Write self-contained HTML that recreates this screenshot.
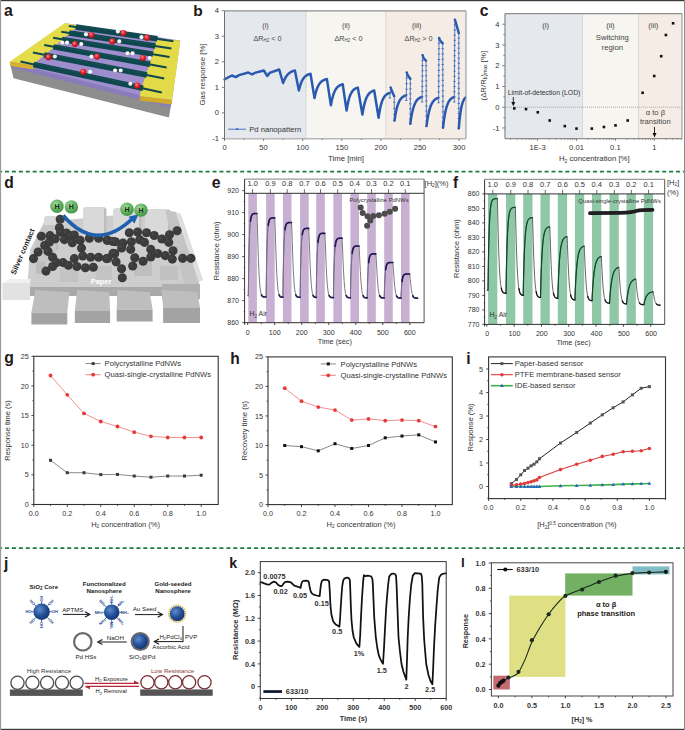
<!DOCTYPE html><html><head><meta charset="utf-8"><style>html,body{margin:0;padding:0;background:#fff;}svg{display:block;}text{font-family:"Liberation Sans", sans-serif;}</style></head><body>
<svg width="685" height="730" viewBox="0 0 685 730">
<rect x="0.00" y="0.00" width="685.00" height="730.00" fill="#fff" />
<text x="4.10" y="16.10" font-size="15.8" text-anchor="start" fill="#231815" font-weight="bold" >a</text>
<polygon points="10.30,64.50 171.00,104.00 169.00,117.40 13.50,78.20" fill="#8e8e8e" />
<polygon points="10.30,61.50 171.50,102.50 170.60,107.50 11.00,67.50" fill="#8a7cbc" />
<polygon points="65.70,23.30 180.30,40.50 171.50,103.20 10.30,62.50" fill="#9e8ecd" />
<polygon points="9.70,61.80 64.60,23.30 79.00,25.60 72.00,31.00 71.00,32.00 65.00,37.00 64.00,38.50 56.00,45.00 55.00,46.60 46.00,54.00 44.00,55.40 36.00,62.00 33.60,65.30" fill="#e4dc48" />
<polygon points="9.70,61.80 33.60,65.30 33.60,69.40 10.50,66.00" fill="#d6b22c" />
<polygon points="156.30,39.20 180.40,40.60 172.10,100.10 139.70,96.30 141.20,88.80 145.70,75.20 149.50,64.70 152.50,54.90 154.80,47.40" fill="#e2da46" />
<polygon points="139.70,96.30 172.10,100.10 171.50,104.50 139.70,100.50" fill="#d2aa2a" />
<line x1="68.80" y1="25.90" x2="173.40" y2="41.20" stroke="#0e474d" stroke-width="2.0" stroke-linecap="butt"/>
<line x1="75.91" y1="27.09" x2="157.44" y2="38.72" stroke="#0e474d" stroke-width="5.5" stroke-linecap="butt"/>
<line x1="77.91" y1="25.79" x2="156.44" y2="37.42" stroke="#2a6468" stroke-width="0.7" stroke-dasharray="0.8,1.2" stroke-linecap="butt"/>
<line x1="61.30" y1="31.70" x2="171.40" y2="48.60" stroke="#0e474d" stroke-width="2.0" stroke-linecap="butt"/>
<line x1="69.15" y1="33.06" x2="155.33" y2="45.98" stroke="#0e474d" stroke-width="5.5" stroke-linecap="butt"/>
<line x1="71.15" y1="31.76" x2="154.33" y2="44.68" stroke="#2a6468" stroke-width="0.7" stroke-dasharray="0.8,1.2" stroke-linecap="butt"/>
<line x1="53.10" y1="37.80" x2="169.50" y2="57.00" stroke="#0e474d" stroke-width="2.0" stroke-linecap="butt"/>
<line x1="61.93" y1="39.42" x2="152.97" y2="54.11" stroke="#0e474d" stroke-width="5.5" stroke-linecap="butt"/>
<line x1="63.93" y1="38.12" x2="151.97" y2="52.81" stroke="#2a6468" stroke-width="0.7" stroke-dasharray="0.8,1.2" stroke-linecap="butt"/>
<line x1="44.20" y1="45.00" x2="166.60" y2="67.40" stroke="#0e474d" stroke-width="2.0" stroke-linecap="butt"/>
<line x1="53.48" y1="46.88" x2="150.04" y2="64.19" stroke="#0e474d" stroke-width="5.5" stroke-linecap="butt"/>
<line x1="55.48" y1="45.58" x2="149.04" y2="62.89" stroke="#2a6468" stroke-width="0.7" stroke-dasharray="0.8,1.2" stroke-linecap="butt"/>
<line x1="32.90" y1="52.60" x2="164.20" y2="78.60" stroke="#0e474d" stroke-width="2.0" stroke-linecap="butt"/>
<line x1="44.23" y1="55.04" x2="146.90" y2="74.98" stroke="#0e474d" stroke-width="5.5" stroke-linecap="butt"/>
<line x1="46.23" y1="53.74" x2="145.90" y2="73.68" stroke="#2a6468" stroke-width="0.7" stroke-dasharray="0.8,1.2" stroke-linecap="butt"/>
<line x1="20.50" y1="61.40" x2="161.80" y2="92.60" stroke="#0e474d" stroke-width="2.0" stroke-linecap="butt"/>
<line x1="33.51" y1="64.49" x2="143.04" y2="88.24" stroke="#0e474d" stroke-width="5.5" stroke-linecap="butt"/>
<line x1="35.51" y1="63.19" x2="142.04" y2="86.94" stroke="#2a6468" stroke-width="0.7" stroke-dasharray="0.8,1.2" stroke-linecap="butt"/>
<defs><radialGradient id="rg" cx="0.4" cy="0.35" r="0.7"><stop offset="0" stop-color="#ff8a8a"/><stop offset="0.5" stop-color="#e0202a"/><stop offset="1" stop-color="#a01018"/></radialGradient><radialGradient id="wg" cx="0.4" cy="0.35" r="0.7"><stop offset="0" stop-color="#ffffff"/><stop offset="0.7" stop-color="#f0f0f0"/><stop offset="1" stop-color="#b8b8b8"/></radialGradient></defs>
<circle cx="91.50" cy="35.00" r="3.10" fill="url(#rg)" />
<circle cx="123.40" cy="33.00" r="3.10" fill="url(#rg)" />
<circle cx="147.00" cy="37.70" r="3.10" fill="url(#rg)" />
<circle cx="74.90" cy="44.10" r="3.10" fill="url(#rg)" />
<circle cx="112.30" cy="41.40" r="3.10" fill="url(#rg)" />
<circle cx="142.90" cy="58.00" r="3.10" fill="url(#rg)" />
<circle cx="48.50" cy="57.20" r="3.10" fill="url(#rg)" />
<circle cx="97.10" cy="56.60" r="3.10" fill="url(#rg)" />
<circle cx="83.20" cy="71.90" r="3.10" fill="url(#rg)" />
<circle cx="137.30" cy="85.70" r="3.10" fill="url(#rg)" />
<circle cx="86.00" cy="34.40" r="2.10" fill="url(#wg)" />
<circle cx="117.90" cy="31.60" r="2.10" fill="url(#wg)" />
<circle cx="141.50" cy="37.20" r="2.10" fill="url(#wg)" />
<circle cx="62.40" cy="42.70" r="2.10" fill="url(#wg)" />
<circle cx="67.10" cy="42.70" r="2.10" fill="url(#wg)" />
<circle cx="81.30" cy="44.10" r="2.10" fill="url(#wg)" />
<circle cx="119.30" cy="41.40" r="2.10" fill="url(#wg)" />
<circle cx="127.60" cy="53.30" r="2.10" fill="url(#wg)" />
<circle cx="132.60" cy="53.30" r="2.10" fill="url(#wg)" />
<circle cx="149.80" cy="58.00" r="2.10" fill="url(#wg)" />
<circle cx="54.90" cy="56.60" r="2.10" fill="url(#wg)" />
<circle cx="91.50" cy="56.60" r="2.10" fill="url(#wg)" />
<circle cx="90.20" cy="71.90" r="2.10" fill="url(#wg)" />
<circle cx="115.10" cy="70.50" r="2.10" fill="url(#wg)" />
<circle cx="120.70" cy="70.50" r="2.10" fill="url(#wg)" />
<circle cx="130.40" cy="83.80" r="2.10" fill="url(#wg)" />
<text x="193.20" y="16.10" font-size="15.5" text-anchor="start" fill="#231815" font-weight="bold" >b</text>
<rect x="224.50" y="10.90" width="81.50" height="127.80" fill="#e5e9ee" />
<rect x="306.00" y="10.90" width="79.80" height="127.80" fill="#f6f5ef" />
<rect x="385.80" y="10.90" width="80.20" height="127.80" fill="#f5ede5" />
<line x1="306.00" y1="10.90" x2="306.00" y2="138.70" stroke="#b0b0b0" stroke-width="0.8" stroke-dasharray="1,1"/>
<line x1="385.80" y1="10.90" x2="385.80" y2="138.70" stroke="#b0b0b0" stroke-width="0.8" stroke-dasharray="1,1"/>
<text x="265.50" y="28.20" font-size="7.2" text-anchor="middle" fill="#444" font-weight="normal" >(i)</text>
<text x="267.50" y="40.60" font-size="7.2" text-anchor="middle" fill="#444" font-weight="normal" >ΔR<tspan font-size="4.5" dy="1.5">H2</tspan><tspan dy="-1.5"> &lt; 0</tspan></text>
<text x="346.00" y="28.20" font-size="7.2" text-anchor="middle" fill="#444" font-weight="normal" >(ii)</text>
<text x="348.50" y="40.60" font-size="7.2" text-anchor="middle" fill="#444" font-weight="normal" >ΔR<tspan font-size="4.5" dy="1.5">H2</tspan><tspan dy="-1.5"> &lt; 0</tspan></text>
<text x="416.70" y="28.20" font-size="7.2" text-anchor="middle" fill="#444" font-weight="normal" >(iii)</text>
<text x="418.60" y="40.60" font-size="7.2" text-anchor="middle" fill="#444" font-weight="normal" >ΔR<tspan font-size="4.5" dy="1.5">H2</tspan><tspan dy="-1.5"> &gt; 0</tspan></text>
<polyline points="224.60,79.40 228.00,77.50 231.90,75.50 235.80,77.10 239.10,75.10 248.30,72.50 252.00,74.50 254.80,72.90 263.80,70.50 267.30,76.00 269.60,72.90 279.20,69.50 283.10,83.00 284.58,79.35 286.05,76.67 287.52,74.71 289.00,73.28 290.48,72.24 291.95,71.47 293.42,70.91 294.90,70.50 298.90,90.50 300.06,85.94 301.22,82.57 302.38,80.07 303.54,78.22 304.70,76.85 305.86,75.83 307.02,75.08 308.18,74.52 309.34,74.11 310.50,73.80 314.50,98.10 315.39,94.05 316.27,90.83 317.16,88.27 318.04,86.23 318.93,84.61 319.81,83.32 320.70,82.29 321.59,81.47 322.47,80.82 323.36,80.31 324.24,79.90 325.13,79.57 326.01,79.31 326.90,79.10 330.90,105.30 331.74,100.83 332.59,97.27 333.43,94.44 334.27,92.18 335.11,90.39 335.96,88.96 336.80,87.83 337.64,86.92 338.49,86.21 339.33,85.63 340.17,85.18 341.01,84.82 341.86,84.53 342.70,84.30 346.60,110.60 347.40,105.70 348.20,101.80 349.00,98.70 349.80,96.23 350.60,94.27 351.40,92.71 352.20,91.46 353.00,90.47 353.80,89.69 354.60,89.06 355.40,88.56 356.20,88.17 357.00,87.85 357.80,87.60 362.40,114.50 363.24,109.39 364.09,105.32 364.93,102.08 365.77,99.51 366.61,97.46 367.46,95.83 368.30,94.53 369.14,93.50 369.99,92.68 370.83,92.02 371.67,91.50 372.51,91.09 373.36,90.76 374.20,90.50 378.60,117.80 379.38,112.52 380.16,108.31 380.94,104.97 381.71,102.31 382.49,100.19 383.27,98.51 384.05,97.17 384.83,96.10 385.61,95.25 386.39,94.58 387.16,94.04 387.94,93.61 388.72,93.27 389.50,93.00" fill="none" stroke="#2a59b0" stroke-width="2.5" stroke-linejoin="round" stroke-linecap="round" />
<line x1="389.80" y1="98.00" x2="390.60" y2="87.50" stroke="#4a72c0" stroke-width="0.9" />
<line x1="394.20" y1="96.20" x2="394.50" y2="120.60" stroke="#4a72c0" stroke-width="0.9" />
<line x1="388.60" y1="98.00" x2="391.00" y2="98.00" stroke="#3a66b8" stroke-width="0.9" />
<line x1="389.05" y1="92.75" x2="391.45" y2="92.75" stroke="#3a66b8" stroke-width="0.9" />
<line x1="389.50" y1="87.50" x2="391.90" y2="87.50" stroke="#3a66b8" stroke-width="0.9" />
<line x1="393.00" y1="96.20" x2="395.40" y2="96.20" stroke="#3a66b8" stroke-width="0.9" />
<line x1="393.07" y1="102.30" x2="395.47" y2="102.30" stroke="#3a66b8" stroke-width="0.9" />
<line x1="393.15" y1="108.40" x2="395.55" y2="108.40" stroke="#3a66b8" stroke-width="0.9" />
<line x1="393.23" y1="114.50" x2="395.62" y2="114.50" stroke="#3a66b8" stroke-width="0.9" />
<line x1="393.30" y1="120.60" x2="395.70" y2="120.60" stroke="#3a66b8" stroke-width="0.9" />
<polyline points="390.70,87.50 391.50,90.00 394.20,96.20" fill="none" stroke="#2a59b0" stroke-width="2.4" stroke-linejoin="round" stroke-linecap="round" />
<polyline points="394.50,120.60 395.32,115.23 396.14,110.96 396.96,107.56 397.79,104.86 398.61,102.71 399.43,101.00 400.25,99.63 401.07,98.55 401.89,97.69 402.71,97.00 403.54,96.45 404.36,96.02 405.18,95.67 406.00,95.40" fill="none" stroke="#2a59b0" stroke-width="2.5" stroke-linejoin="round" stroke-linecap="round" clip-path="url(#clipb)"/>
<line x1="406.30" y1="100.40" x2="406.70" y2="72.50" stroke="#4a72c0" stroke-width="0.9" />
<line x1="410.30" y1="78.80" x2="410.30" y2="123.80" stroke="#4a72c0" stroke-width="0.9" />
<line x1="405.10" y1="100.40" x2="407.50" y2="100.40" stroke="#3a66b8" stroke-width="0.9" />
<line x1="405.20" y1="94.82" x2="407.60" y2="94.82" stroke="#3a66b8" stroke-width="0.9" />
<line x1="405.30" y1="89.24" x2="407.70" y2="89.24" stroke="#3a66b8" stroke-width="0.9" />
<line x1="405.40" y1="83.66" x2="407.80" y2="83.66" stroke="#3a66b8" stroke-width="0.9" />
<line x1="405.50" y1="78.08" x2="407.90" y2="78.08" stroke="#3a66b8" stroke-width="0.9" />
<line x1="405.60" y1="72.50" x2="408.00" y2="72.50" stroke="#3a66b8" stroke-width="0.9" />
<line x1="409.10" y1="78.80" x2="411.50" y2="78.80" stroke="#3a66b8" stroke-width="0.9" />
<line x1="409.10" y1="83.80" x2="411.50" y2="83.80" stroke="#3a66b8" stroke-width="0.9" />
<line x1="409.10" y1="88.80" x2="411.50" y2="88.80" stroke="#3a66b8" stroke-width="0.9" />
<line x1="409.10" y1="93.80" x2="411.50" y2="93.80" stroke="#3a66b8" stroke-width="0.9" />
<line x1="409.10" y1="98.80" x2="411.50" y2="98.80" stroke="#3a66b8" stroke-width="0.9" />
<line x1="409.10" y1="103.80" x2="411.50" y2="103.80" stroke="#3a66b8" stroke-width="0.9" />
<line x1="409.10" y1="108.80" x2="411.50" y2="108.80" stroke="#3a66b8" stroke-width="0.9" />
<line x1="409.10" y1="113.80" x2="411.50" y2="113.80" stroke="#3a66b8" stroke-width="0.9" />
<line x1="409.10" y1="118.80" x2="411.50" y2="118.80" stroke="#3a66b8" stroke-width="0.9" />
<line x1="409.10" y1="123.80" x2="411.50" y2="123.80" stroke="#3a66b8" stroke-width="0.9" />
<polyline points="406.80,72.50 407.60,75.00 410.30,78.80" fill="none" stroke="#2a59b0" stroke-width="2.4" stroke-linejoin="round" stroke-linecap="round" />
<polyline points="410.30,123.80 411.12,118.09 411.94,113.55 412.76,109.93 413.59,107.06 414.41,104.77 415.23,102.95 416.05,101.50 416.87,100.35 417.69,99.43 418.51,98.70 419.34,98.12 420.16,97.66 420.98,97.29 421.80,97.00" fill="none" stroke="#2a59b0" stroke-width="2.5" stroke-linejoin="round" stroke-linecap="round" clip-path="url(#clipb)"/>
<line x1="422.10" y1="102.00" x2="422.50" y2="55.20" stroke="#4a72c0" stroke-width="0.9" />
<line x1="426.00" y1="60.70" x2="426.50" y2="126.10" stroke="#4a72c0" stroke-width="0.9" />
<line x1="420.90" y1="102.00" x2="423.30" y2="102.00" stroke="#3a66b8" stroke-width="0.9" />
<line x1="420.96" y1="96.80" x2="423.36" y2="96.80" stroke="#3a66b8" stroke-width="0.9" />
<line x1="421.01" y1="91.60" x2="423.41" y2="91.60" stroke="#3a66b8" stroke-width="0.9" />
<line x1="421.07" y1="86.40" x2="423.47" y2="86.40" stroke="#3a66b8" stroke-width="0.9" />
<line x1="421.12" y1="81.20" x2="423.52" y2="81.20" stroke="#3a66b8" stroke-width="0.9" />
<line x1="421.18" y1="76.00" x2="423.58" y2="76.00" stroke="#3a66b8" stroke-width="0.9" />
<line x1="421.23" y1="70.80" x2="423.63" y2="70.80" stroke="#3a66b8" stroke-width="0.9" />
<line x1="421.29" y1="65.60" x2="423.69" y2="65.60" stroke="#3a66b8" stroke-width="0.9" />
<line x1="421.34" y1="60.40" x2="423.74" y2="60.40" stroke="#3a66b8" stroke-width="0.9" />
<line x1="421.40" y1="55.20" x2="423.80" y2="55.20" stroke="#3a66b8" stroke-width="0.9" />
<line x1="424.80" y1="60.70" x2="427.20" y2="60.70" stroke="#3a66b8" stroke-width="0.9" />
<line x1="424.84" y1="65.73" x2="427.24" y2="65.73" stroke="#3a66b8" stroke-width="0.9" />
<line x1="424.88" y1="70.76" x2="427.28" y2="70.76" stroke="#3a66b8" stroke-width="0.9" />
<line x1="424.92" y1="75.79" x2="427.32" y2="75.79" stroke="#3a66b8" stroke-width="0.9" />
<line x1="424.95" y1="80.82" x2="427.35" y2="80.82" stroke="#3a66b8" stroke-width="0.9" />
<line x1="424.99" y1="85.85" x2="427.39" y2="85.85" stroke="#3a66b8" stroke-width="0.9" />
<line x1="425.03" y1="90.88" x2="427.43" y2="90.88" stroke="#3a66b8" stroke-width="0.9" />
<line x1="425.07" y1="95.92" x2="427.47" y2="95.92" stroke="#3a66b8" stroke-width="0.9" />
<line x1="425.11" y1="100.95" x2="427.51" y2="100.95" stroke="#3a66b8" stroke-width="0.9" />
<line x1="425.15" y1="105.98" x2="427.55" y2="105.98" stroke="#3a66b8" stroke-width="0.9" />
<line x1="425.18" y1="111.01" x2="427.58" y2="111.01" stroke="#3a66b8" stroke-width="0.9" />
<line x1="425.22" y1="116.04" x2="427.62" y2="116.04" stroke="#3a66b8" stroke-width="0.9" />
<line x1="425.26" y1="121.07" x2="427.66" y2="121.07" stroke="#3a66b8" stroke-width="0.9" />
<line x1="425.30" y1="126.10" x2="427.70" y2="126.10" stroke="#3a66b8" stroke-width="0.9" />
<polyline points="422.60,55.20 423.40,57.70 426.00,60.70" fill="none" stroke="#2a59b0" stroke-width="2.4" stroke-linejoin="round" stroke-linecap="round" />
<polyline points="426.50,126.10 427.34,120.07 428.19,115.28 429.03,111.46 429.87,108.42 430.71,106.01 431.56,104.08 432.40,102.55 433.24,101.34 434.09,100.37 434.93,99.60 435.77,98.98 436.61,98.50 437.46,98.11 438.30,97.80" fill="none" stroke="#2a59b0" stroke-width="2.5" stroke-linejoin="round" stroke-linecap="round" clip-path="url(#clipb)"/>
<line x1="438.60" y1="102.80" x2="439.00" y2="37.90" stroke="#4a72c0" stroke-width="0.9" />
<line x1="442.70" y1="43.40" x2="443.00" y2="127.70" stroke="#4a72c0" stroke-width="0.9" />
<line x1="437.40" y1="102.80" x2="439.80" y2="102.80" stroke="#3a66b8" stroke-width="0.9" />
<line x1="437.44" y1="97.39" x2="439.84" y2="97.39" stroke="#3a66b8" stroke-width="0.9" />
<line x1="437.48" y1="91.98" x2="439.88" y2="91.98" stroke="#3a66b8" stroke-width="0.9" />
<line x1="437.53" y1="86.57" x2="439.93" y2="86.57" stroke="#3a66b8" stroke-width="0.9" />
<line x1="437.57" y1="81.17" x2="439.97" y2="81.17" stroke="#3a66b8" stroke-width="0.9" />
<line x1="437.61" y1="75.76" x2="440.01" y2="75.76" stroke="#3a66b8" stroke-width="0.9" />
<line x1="437.65" y1="70.35" x2="440.05" y2="70.35" stroke="#3a66b8" stroke-width="0.9" />
<line x1="437.69" y1="64.94" x2="440.09" y2="64.94" stroke="#3a66b8" stroke-width="0.9" />
<line x1="437.73" y1="59.53" x2="440.13" y2="59.53" stroke="#3a66b8" stroke-width="0.9" />
<line x1="437.78" y1="54.12" x2="440.18" y2="54.12" stroke="#3a66b8" stroke-width="0.9" />
<line x1="437.82" y1="48.72" x2="440.22" y2="48.72" stroke="#3a66b8" stroke-width="0.9" />
<line x1="437.86" y1="43.31" x2="440.26" y2="43.31" stroke="#3a66b8" stroke-width="0.9" />
<line x1="437.90" y1="37.90" x2="440.30" y2="37.90" stroke="#3a66b8" stroke-width="0.9" />
<line x1="441.50" y1="43.40" x2="443.90" y2="43.40" stroke="#3a66b8" stroke-width="0.9" />
<line x1="441.52" y1="48.67" x2="443.92" y2="48.67" stroke="#3a66b8" stroke-width="0.9" />
<line x1="441.54" y1="53.94" x2="443.94" y2="53.94" stroke="#3a66b8" stroke-width="0.9" />
<line x1="441.56" y1="59.21" x2="443.96" y2="59.21" stroke="#3a66b8" stroke-width="0.9" />
<line x1="441.57" y1="64.47" x2="443.97" y2="64.47" stroke="#3a66b8" stroke-width="0.9" />
<line x1="441.59" y1="69.74" x2="443.99" y2="69.74" stroke="#3a66b8" stroke-width="0.9" />
<line x1="441.61" y1="75.01" x2="444.01" y2="75.01" stroke="#3a66b8" stroke-width="0.9" />
<line x1="441.63" y1="80.28" x2="444.03" y2="80.28" stroke="#3a66b8" stroke-width="0.9" />
<line x1="441.65" y1="85.55" x2="444.05" y2="85.55" stroke="#3a66b8" stroke-width="0.9" />
<line x1="441.67" y1="90.82" x2="444.07" y2="90.82" stroke="#3a66b8" stroke-width="0.9" />
<line x1="441.69" y1="96.09" x2="444.09" y2="96.09" stroke="#3a66b8" stroke-width="0.9" />
<line x1="441.71" y1="101.36" x2="444.11" y2="101.36" stroke="#3a66b8" stroke-width="0.9" />
<line x1="441.73" y1="106.62" x2="444.12" y2="106.62" stroke="#3a66b8" stroke-width="0.9" />
<line x1="441.74" y1="111.89" x2="444.14" y2="111.89" stroke="#3a66b8" stroke-width="0.9" />
<line x1="441.76" y1="117.16" x2="444.16" y2="117.16" stroke="#3a66b8" stroke-width="0.9" />
<line x1="441.78" y1="122.43" x2="444.18" y2="122.43" stroke="#3a66b8" stroke-width="0.9" />
<line x1="441.80" y1="127.70" x2="444.20" y2="127.70" stroke="#3a66b8" stroke-width="0.9" />
<polyline points="439.10,37.90 439.90,40.40 442.70,43.40" fill="none" stroke="#2a59b0" stroke-width="2.4" stroke-linejoin="round" stroke-linecap="round" />
<polyline points="443.00,127.70 443.79,121.16 444.57,115.96 445.36,111.82 446.14,108.52 446.93,105.90 447.71,103.82 448.50,102.16 449.29,100.84 450.07,99.79 450.86,98.95 451.64,98.29 452.43,97.76 453.21,97.34 454.00,97.00" fill="none" stroke="#2a59b0" stroke-width="2.5" stroke-linejoin="round" stroke-linecap="round" clip-path="url(#clipb)"/>
<line x1="454.30" y1="102.00" x2="454.80" y2="19.70" stroke="#4a72c0" stroke-width="0.9" />
<line x1="458.80" y1="33.10" x2="458.80" y2="128.50" stroke="#4a72c0" stroke-width="0.9" />
<line x1="453.10" y1="102.00" x2="455.50" y2="102.00" stroke="#3a66b8" stroke-width="0.9" />
<line x1="453.14" y1="96.86" x2="455.54" y2="96.86" stroke="#3a66b8" stroke-width="0.9" />
<line x1="453.18" y1="91.71" x2="455.57" y2="91.71" stroke="#3a66b8" stroke-width="0.9" />
<line x1="453.21" y1="86.57" x2="455.61" y2="86.57" stroke="#3a66b8" stroke-width="0.9" />
<line x1="453.25" y1="81.42" x2="455.65" y2="81.42" stroke="#3a66b8" stroke-width="0.9" />
<line x1="453.29" y1="76.28" x2="455.69" y2="76.28" stroke="#3a66b8" stroke-width="0.9" />
<line x1="453.32" y1="71.14" x2="455.72" y2="71.14" stroke="#3a66b8" stroke-width="0.9" />
<line x1="453.36" y1="65.99" x2="455.76" y2="65.99" stroke="#3a66b8" stroke-width="0.9" />
<line x1="453.40" y1="60.85" x2="455.80" y2="60.85" stroke="#3a66b8" stroke-width="0.9" />
<line x1="453.44" y1="55.71" x2="455.84" y2="55.71" stroke="#3a66b8" stroke-width="0.9" />
<line x1="453.48" y1="50.56" x2="455.88" y2="50.56" stroke="#3a66b8" stroke-width="0.9" />
<line x1="453.51" y1="45.42" x2="455.91" y2="45.42" stroke="#3a66b8" stroke-width="0.9" />
<line x1="453.55" y1="40.28" x2="455.95" y2="40.28" stroke="#3a66b8" stroke-width="0.9" />
<line x1="453.59" y1="35.13" x2="455.99" y2="35.13" stroke="#3a66b8" stroke-width="0.9" />
<line x1="453.62" y1="29.99" x2="456.02" y2="29.99" stroke="#3a66b8" stroke-width="0.9" />
<line x1="453.66" y1="24.84" x2="456.06" y2="24.84" stroke="#3a66b8" stroke-width="0.9" />
<line x1="453.70" y1="19.70" x2="456.10" y2="19.70" stroke="#3a66b8" stroke-width="0.9" />
<line x1="457.60" y1="33.10" x2="460.00" y2="33.10" stroke="#3a66b8" stroke-width="0.9" />
<line x1="457.60" y1="38.12" x2="460.00" y2="38.12" stroke="#3a66b8" stroke-width="0.9" />
<line x1="457.60" y1="43.14" x2="460.00" y2="43.14" stroke="#3a66b8" stroke-width="0.9" />
<line x1="457.60" y1="48.16" x2="460.00" y2="48.16" stroke="#3a66b8" stroke-width="0.9" />
<line x1="457.60" y1="53.18" x2="460.00" y2="53.18" stroke="#3a66b8" stroke-width="0.9" />
<line x1="457.60" y1="58.21" x2="460.00" y2="58.21" stroke="#3a66b8" stroke-width="0.9" />
<line x1="457.60" y1="63.23" x2="460.00" y2="63.23" stroke="#3a66b8" stroke-width="0.9" />
<line x1="457.60" y1="68.25" x2="460.00" y2="68.25" stroke="#3a66b8" stroke-width="0.9" />
<line x1="457.60" y1="73.27" x2="460.00" y2="73.27" stroke="#3a66b8" stroke-width="0.9" />
<line x1="457.60" y1="78.29" x2="460.00" y2="78.29" stroke="#3a66b8" stroke-width="0.9" />
<line x1="457.60" y1="83.31" x2="460.00" y2="83.31" stroke="#3a66b8" stroke-width="0.9" />
<line x1="457.60" y1="88.33" x2="460.00" y2="88.33" stroke="#3a66b8" stroke-width="0.9" />
<line x1="457.60" y1="93.35" x2="460.00" y2="93.35" stroke="#3a66b8" stroke-width="0.9" />
<line x1="457.60" y1="98.37" x2="460.00" y2="98.37" stroke="#3a66b8" stroke-width="0.9" />
<line x1="457.60" y1="103.39" x2="460.00" y2="103.39" stroke="#3a66b8" stroke-width="0.9" />
<line x1="457.60" y1="108.42" x2="460.00" y2="108.42" stroke="#3a66b8" stroke-width="0.9" />
<line x1="457.60" y1="113.44" x2="460.00" y2="113.44" stroke="#3a66b8" stroke-width="0.9" />
<line x1="457.60" y1="118.46" x2="460.00" y2="118.46" stroke="#3a66b8" stroke-width="0.9" />
<line x1="457.60" y1="123.48" x2="460.00" y2="123.48" stroke="#3a66b8" stroke-width="0.9" />
<line x1="457.60" y1="128.50" x2="460.00" y2="128.50" stroke="#3a66b8" stroke-width="0.9" />
<polyline points="454.90,19.70 455.70,22.20 458.80,33.10" fill="none" stroke="#2a59b0" stroke-width="2.4" stroke-linejoin="round" stroke-linecap="round" />
<polyline points="458.80,128.50 459.39,121.68 459.97,116.26 460.56,111.94 461.14,108.51 461.73,105.78 462.31,103.61 462.90,101.88 463.49,100.50 464.07,99.40 464.66,98.53 465.24,97.84 465.83,97.29 466.41,96.85 467.00,96.50" fill="none" stroke="#2a59b0" stroke-width="2.5" stroke-linejoin="round" stroke-linecap="round" clip-path="url(#clipb)"/>
<defs><clipPath id="clipb"><rect x="224.5" y="10.9" width="241.5" height="127.79999999999998"/></clipPath></defs>
<line x1="224.50" y1="10.90" x2="466.00" y2="10.90" stroke="#8f8f8f" stroke-width="1.2" />
<line x1="466.00" y1="10.90" x2="466.00" y2="138.70" stroke="#9a9a9a" stroke-width="1.1" />
<line x1="224.50" y1="138.70" x2="466.00" y2="138.70" stroke="#b8b8b8" stroke-width="1.5" />
<line x1="224.50" y1="10.90" x2="224.50" y2="140.20" stroke="#707070" stroke-width="1.0" />
<line x1="221.80" y1="10.70" x2="224.50" y2="10.70" stroke="#707070" stroke-width="0.9" />
<text x="219.00" y="13.00" font-size="7.6" text-anchor="end" fill="#333" font-weight="normal" >4</text>
<line x1="221.80" y1="36.24" x2="224.50" y2="36.24" stroke="#707070" stroke-width="0.9" />
<text x="219.00" y="38.54" font-size="7.6" text-anchor="end" fill="#333" font-weight="normal" >3</text>
<line x1="221.80" y1="61.78" x2="224.50" y2="61.78" stroke="#707070" stroke-width="0.9" />
<text x="219.00" y="64.08" font-size="7.6" text-anchor="end" fill="#333" font-weight="normal" >2</text>
<line x1="221.80" y1="87.32" x2="224.50" y2="87.32" stroke="#707070" stroke-width="0.9" />
<text x="219.00" y="89.62" font-size="7.6" text-anchor="end" fill="#333" font-weight="normal" >1</text>
<line x1="221.80" y1="112.86" x2="224.50" y2="112.86" stroke="#707070" stroke-width="0.9" />
<text x="219.00" y="115.16" font-size="7.6" text-anchor="end" fill="#333" font-weight="normal" >0</text>
<line x1="221.80" y1="138.40" x2="224.50" y2="138.40" stroke="#707070" stroke-width="0.9" />
<text x="219.00" y="140.70" font-size="7.6" text-anchor="end" fill="#333" font-weight="normal" >-1</text>
<line x1="224.50" y1="138.70" x2="224.50" y2="140.90" stroke="#707070" stroke-width="0.9" />
<text x="224.50" y="150.30" font-size="7.6" text-anchor="middle" fill="#333" font-weight="normal" >0</text>
<line x1="263.60" y1="138.70" x2="263.60" y2="140.90" stroke="#707070" stroke-width="0.9" />
<text x="263.60" y="150.30" font-size="7.6" text-anchor="middle" fill="#333" font-weight="normal" >50</text>
<line x1="302.70" y1="138.70" x2="302.70" y2="140.90" stroke="#707070" stroke-width="0.9" />
<text x="302.70" y="150.30" font-size="7.6" text-anchor="middle" fill="#333" font-weight="normal" >100</text>
<line x1="341.80" y1="138.70" x2="341.80" y2="140.90" stroke="#707070" stroke-width="0.9" />
<text x="341.80" y="150.30" font-size="7.6" text-anchor="middle" fill="#333" font-weight="normal" >150</text>
<line x1="380.90" y1="138.70" x2="380.90" y2="140.90" stroke="#707070" stroke-width="0.9" />
<text x="380.90" y="150.30" font-size="7.6" text-anchor="middle" fill="#333" font-weight="normal" >200</text>
<line x1="420.00" y1="138.70" x2="420.00" y2="140.90" stroke="#707070" stroke-width="0.9" />
<text x="420.00" y="150.30" font-size="7.6" text-anchor="middle" fill="#333" font-weight="normal" >250</text>
<line x1="459.10" y1="138.70" x2="459.10" y2="140.90" stroke="#707070" stroke-width="0.9" />
<text x="459.10" y="150.30" font-size="7.6" text-anchor="middle" fill="#333" font-weight="normal" >300</text>
<line x1="244.05" y1="138.70" x2="244.05" y2="140.10" stroke="#707070" stroke-width="0.8" />
<line x1="283.15" y1="138.70" x2="283.15" y2="140.10" stroke="#707070" stroke-width="0.8" />
<line x1="322.25" y1="138.70" x2="322.25" y2="140.10" stroke="#707070" stroke-width="0.8" />
<line x1="361.35" y1="138.70" x2="361.35" y2="140.10" stroke="#707070" stroke-width="0.8" />
<line x1="400.45" y1="138.70" x2="400.45" y2="140.10" stroke="#707070" stroke-width="0.8" />
<line x1="439.55" y1="138.70" x2="439.55" y2="140.10" stroke="#707070" stroke-width="0.8" />
<text x="346.00" y="161.30" font-size="7.8" text-anchor="middle" fill="#333" font-weight="normal" >Time [min]</text>
<text x="0.00" y="0.00" font-size="7.8" text-anchor="middle" fill="#333" font-weight="normal" transform="translate(205.2,74.5) rotate(-90)">Gas response [%]</text>
<line x1="228.10" y1="129.20" x2="246.00" y2="129.20" stroke="#4a72c0" stroke-width="1.0" />
<line x1="236.20" y1="129.20" x2="238.20" y2="129.20" stroke="#2a59b0" stroke-width="1.6" />
<text x="249.30" y="131.90" font-size="7.6" text-anchor="start" fill="#333" font-weight="normal" >Pd nanopattern</text>
<text x="479.80" y="16.40" font-size="15.8" text-anchor="start" fill="#231815" font-weight="bold" >c</text>
<rect x="505.00" y="13.60" width="77.50" height="125.00" fill="#e5e9ee" />
<rect x="582.50" y="13.60" width="55.90" height="125.00" fill="#f6f5ef" />
<rect x="638.40" y="13.60" width="43.60" height="125.00" fill="#f5ede5" />
<line x1="582.50" y1="13.60" x2="582.50" y2="138.60" stroke="#a8a8a8" stroke-width="0.8" stroke-dasharray="1,1"/>
<line x1="638.40" y1="13.60" x2="638.40" y2="138.60" stroke="#a8a8a8" stroke-width="0.8" stroke-dasharray="1,1"/>
<line x1="505.00" y1="107.20" x2="682.00" y2="107.20" stroke="#a0a0a0" stroke-width="0.8" stroke-dasharray="1.2,0.8"/>
<text x="545.70" y="28.30" font-size="7.6" text-anchor="middle" fill="#444" font-weight="normal" >(i)</text>
<text x="610.40" y="28.30" font-size="7.6" text-anchor="middle" fill="#444" font-weight="normal" >(ii)</text>
<text x="612.30" y="40.00" font-size="7.7" text-anchor="middle" fill="#444" font-weight="normal" >Switching</text>
<text x="612.30" y="49.50" font-size="7.7" text-anchor="middle" fill="#444" font-weight="normal" >region</text>
<text x="653.30" y="28.30" font-size="7.6" text-anchor="middle" fill="#444" font-weight="normal" >(iii)</text>
<text x="655.40" y="115.30" font-size="7.6" text-anchor="middle" fill="#444" font-weight="normal" >α to β</text>
<text x="655.40" y="124.20" font-size="7.6" text-anchor="middle" fill="#444" font-weight="normal" >transition</text>
<text x="507.80" y="94.80" font-size="6.8" text-anchor="start" fill="#333" font-weight="normal" >Limit-of-detection (LOD)</text>
<line x1="513.30" y1="97.00" x2="513.30" y2="102.50" stroke="#111" stroke-width="0.9" />
<polygon points="511.30,102.00 515.30,102.00 513.30,106.30" fill="#111" />
<line x1="654.50" y1="127.00" x2="654.50" y2="133.50" stroke="#111" stroke-width="0.9" />
<polygon points="652.50,133.00 656.50,133.00 654.50,137.60" fill="#111" />
<rect x="513.00" y="107.10" width="2.60" height="2.60" fill="#111" />
<rect x="524.70" y="107.80" width="2.60" height="2.60" fill="#111" />
<rect x="536.50" y="111.00" width="2.60" height="2.60" fill="#111" />
<rect x="548.40" y="119.20" width="2.60" height="2.60" fill="#111" />
<rect x="563.50" y="124.80" width="2.60" height="2.60" fill="#111" />
<rect x="575.20" y="127.30" width="2.60" height="2.60" fill="#111" />
<rect x="590.50" y="127.30" width="2.60" height="2.60" fill="#111" />
<rect x="602.60" y="125.70" width="2.60" height="2.60" fill="#111" />
<rect x="614.20" y="124.10" width="2.60" height="2.60" fill="#111" />
<rect x="626.40" y="119.20" width="2.60" height="2.60" fill="#111" />
<rect x="641.30" y="91.50" width="2.60" height="2.60" fill="#111" />
<rect x="652.90" y="74.70" width="2.60" height="2.60" fill="#111" />
<rect x="659.90" y="54.90" width="2.60" height="2.60" fill="#111" />
<rect x="664.60" y="33.70" width="2.60" height="2.60" fill="#111" />
<rect x="671.80" y="22.00" width="2.60" height="2.60" fill="#111" />
<line x1="505.00" y1="13.60" x2="682.00" y2="13.60" stroke="#8f8f8f" stroke-width="1.2" />
<line x1="682.00" y1="13.60" x2="682.00" y2="138.60" stroke="#9a9a9a" stroke-width="1.1" />
<line x1="505.00" y1="138.60" x2="682.00" y2="138.60" stroke="#8f8f8f" stroke-width="1.2" />
<line x1="505.00" y1="13.60" x2="505.00" y2="138.60" stroke="#707070" stroke-width="1.0" />
<line x1="502.20" y1="24.20" x2="505.00" y2="24.20" stroke="#707070" stroke-width="0.9" />
<text x="499.50" y="26.90" font-size="7.6" text-anchor="end" fill="#333" font-weight="normal" >4</text>
<line x1="502.20" y1="44.95" x2="505.00" y2="44.95" stroke="#707070" stroke-width="0.9" />
<text x="499.50" y="47.65" font-size="7.6" text-anchor="end" fill="#333" font-weight="normal" >3</text>
<line x1="502.20" y1="65.70" x2="505.00" y2="65.70" stroke="#707070" stroke-width="0.9" />
<text x="499.50" y="68.40" font-size="7.6" text-anchor="end" fill="#333" font-weight="normal" >2</text>
<line x1="502.20" y1="86.45" x2="505.00" y2="86.45" stroke="#707070" stroke-width="0.9" />
<text x="499.50" y="89.15" font-size="7.6" text-anchor="end" fill="#333" font-weight="normal" >1</text>
<line x1="502.20" y1="107.20" x2="505.00" y2="107.20" stroke="#707070" stroke-width="0.9" />
<text x="499.50" y="109.90" font-size="7.6" text-anchor="end" fill="#333" font-weight="normal" >0</text>
<line x1="502.20" y1="127.95" x2="505.00" y2="127.95" stroke="#707070" stroke-width="0.9" />
<text x="499.50" y="130.65" font-size="7.6" text-anchor="end" fill="#333" font-weight="normal" >-1</text>
<line x1="503.30" y1="34.58" x2="505.00" y2="34.58" stroke="#707070" stroke-width="0.8" />
<line x1="503.30" y1="55.33" x2="505.00" y2="55.33" stroke="#707070" stroke-width="0.8" />
<line x1="503.30" y1="76.08" x2="505.00" y2="76.08" stroke="#707070" stroke-width="0.8" />
<line x1="503.30" y1="96.83" x2="505.00" y2="96.83" stroke="#707070" stroke-width="0.8" />
<line x1="503.30" y1="117.58" x2="505.00" y2="117.58" stroke="#707070" stroke-width="0.8" />
<line x1="537.60" y1="138.60" x2="537.60" y2="140.80" stroke="#707070" stroke-width="0.9" />
<text x="537.60" y="150.30" font-size="7.6" text-anchor="middle" fill="#333" font-weight="normal" >1E-3</text>
<line x1="576.50" y1="138.60" x2="576.50" y2="140.80" stroke="#707070" stroke-width="0.9" />
<text x="576.50" y="150.30" font-size="7.6" text-anchor="middle" fill="#333" font-weight="normal" >0.01</text>
<line x1="615.40" y1="138.60" x2="615.40" y2="140.80" stroke="#707070" stroke-width="0.9" />
<text x="615.40" y="150.30" font-size="7.6" text-anchor="middle" fill="#333" font-weight="normal" >0.1</text>
<line x1="654.30" y1="138.60" x2="654.30" y2="140.80" stroke="#707070" stroke-width="0.9" />
<text x="654.30" y="150.30" font-size="7.6" text-anchor="middle" fill="#333" font-weight="normal" >1</text>
<line x1="510.41" y1="138.60" x2="510.41" y2="139.90" stroke="#707070" stroke-width="0.7" />
<line x1="517.26" y1="138.60" x2="517.26" y2="139.90" stroke="#707070" stroke-width="0.7" />
<line x1="522.12" y1="138.60" x2="522.12" y2="139.90" stroke="#707070" stroke-width="0.7" />
<line x1="525.89" y1="138.60" x2="525.89" y2="139.90" stroke="#707070" stroke-width="0.7" />
<line x1="528.97" y1="138.60" x2="528.97" y2="139.90" stroke="#707070" stroke-width="0.7" />
<line x1="531.57" y1="138.60" x2="531.57" y2="139.90" stroke="#707070" stroke-width="0.7" />
<line x1="533.83" y1="138.60" x2="533.83" y2="139.90" stroke="#707070" stroke-width="0.7" />
<line x1="535.82" y1="138.60" x2="535.82" y2="139.90" stroke="#707070" stroke-width="0.7" />
<line x1="549.31" y1="138.60" x2="549.31" y2="139.90" stroke="#707070" stroke-width="0.7" />
<line x1="556.16" y1="138.60" x2="556.16" y2="139.90" stroke="#707070" stroke-width="0.7" />
<line x1="561.02" y1="138.60" x2="561.02" y2="139.90" stroke="#707070" stroke-width="0.7" />
<line x1="564.79" y1="138.60" x2="564.79" y2="139.90" stroke="#707070" stroke-width="0.7" />
<line x1="567.87" y1="138.60" x2="567.87" y2="139.90" stroke="#707070" stroke-width="0.7" />
<line x1="570.47" y1="138.60" x2="570.47" y2="139.90" stroke="#707070" stroke-width="0.7" />
<line x1="572.73" y1="138.60" x2="572.73" y2="139.90" stroke="#707070" stroke-width="0.7" />
<line x1="574.72" y1="138.60" x2="574.72" y2="139.90" stroke="#707070" stroke-width="0.7" />
<line x1="588.21" y1="138.60" x2="588.21" y2="139.90" stroke="#707070" stroke-width="0.7" />
<line x1="595.06" y1="138.60" x2="595.06" y2="139.90" stroke="#707070" stroke-width="0.7" />
<line x1="599.92" y1="138.60" x2="599.92" y2="139.90" stroke="#707070" stroke-width="0.7" />
<line x1="603.69" y1="138.60" x2="603.69" y2="139.90" stroke="#707070" stroke-width="0.7" />
<line x1="606.77" y1="138.60" x2="606.77" y2="139.90" stroke="#707070" stroke-width="0.7" />
<line x1="609.37" y1="138.60" x2="609.37" y2="139.90" stroke="#707070" stroke-width="0.7" />
<line x1="611.63" y1="138.60" x2="611.63" y2="139.90" stroke="#707070" stroke-width="0.7" />
<line x1="613.62" y1="138.60" x2="613.62" y2="139.90" stroke="#707070" stroke-width="0.7" />
<line x1="627.11" y1="138.60" x2="627.11" y2="139.90" stroke="#707070" stroke-width="0.7" />
<line x1="633.96" y1="138.60" x2="633.96" y2="139.90" stroke="#707070" stroke-width="0.7" />
<line x1="638.82" y1="138.60" x2="638.82" y2="139.90" stroke="#707070" stroke-width="0.7" />
<line x1="642.59" y1="138.60" x2="642.59" y2="139.90" stroke="#707070" stroke-width="0.7" />
<line x1="645.67" y1="138.60" x2="645.67" y2="139.90" stroke="#707070" stroke-width="0.7" />
<line x1="648.27" y1="138.60" x2="648.27" y2="139.90" stroke="#707070" stroke-width="0.7" />
<line x1="650.53" y1="138.60" x2="650.53" y2="139.90" stroke="#707070" stroke-width="0.7" />
<line x1="652.52" y1="138.60" x2="652.52" y2="139.90" stroke="#707070" stroke-width="0.7" />
<line x1="666.01" y1="138.60" x2="666.01" y2="139.90" stroke="#707070" stroke-width="0.7" />
<line x1="672.86" y1="138.60" x2="672.86" y2="139.90" stroke="#707070" stroke-width="0.7" />
<line x1="677.72" y1="138.60" x2="677.72" y2="139.90" stroke="#707070" stroke-width="0.7" />
<line x1="681.49" y1="138.60" x2="681.49" y2="139.90" stroke="#707070" stroke-width="0.7" />
<text x="594.30" y="161.30" font-size="7.8" text-anchor="middle" fill="#333" font-weight="normal" >H<tspan font-size="5" dy="1.5">2</tspan><tspan dy="-1.5"> concentration [%]</tspan></text>
<text x="0.00" y="0.00" font-size="7.8" text-anchor="middle" fill="#333" font-weight="normal" transform="translate(485.6,75.7) rotate(-90)">(ΔR/R<tspan font-size="5" dy="1.5">b</tspan><tspan dy="-1.5">)</tspan><tspan font-size="5" dy="1.5">max</tspan><tspan dy="-1.5"> [%]</tspan></text>
<text x="4.20" y="188.00" font-size="15.6" text-anchor="start" fill="#231815" font-weight="bold" >d</text>
<polygon points="30.00,250.00 44.00,222.00 170.00,210.00 196.00,284.00 200.00,290.00 27.00,290.00" fill="#cdcdcd" />
<polygon points="44.00,218.00 46.00,216.00 56.00,216.00 56.00,250.00 44.00,250.00" fill="#d9d9d9" />
<polygon points="56.00,216.00 58.50,218.00 58.50,250.00 56.00,250.00" fill="#bdbdbd" />
<polygon points="83.00,209.00 85.00,207.00 104.00,207.00 104.00,240.00 83.00,240.00" fill="#d9d9d9" />
<polygon points="104.00,207.00 106.50,209.00 106.50,240.00 104.00,240.00" fill="#bdbdbd" />
<polygon points="113.00,210.00 115.00,208.00 139.00,208.00 139.00,238.00 113.00,238.00" fill="#d9d9d9" />
<polygon points="139.00,208.00 141.50,210.00 141.50,238.00 139.00,238.00" fill="#bdbdbd" />
<polygon points="145.00,211.00 147.00,209.00 168.00,209.00 168.00,240.00 145.00,240.00" fill="#d9d9d9" />
<polygon points="168.00,209.00 170.50,211.00 170.50,240.00 168.00,240.00" fill="#bdbdbd" />
<polygon points="165.00,210.00 176.00,212.00 199.00,282.00 199.00,291.00 186.00,291.00" fill="#c4c4c4" />
<polygon points="176.00,212.00 181.00,214.00 203.00,280.00 199.00,282.00" fill="#dedede" />
<polygon points="36.00,236.00 44.00,225.00 56.00,225.00 56.00,262.00 36.00,262.00" fill="#c6c6c6" />
<rect x="36.00" y="262.00" width="10.00" height="12.00" fill="#bcbcbc" />
<rect x="60.00" y="268.00" width="18.00" height="14.00" fill="#c3c3c3" />
<rect x="96.00" y="266.00" width="16.00" height="14.00" fill="#c3c3c3" />
<rect x="134.00" y="262.00" width="18.00" height="14.00" fill="#bfbfbf" />
<rect x="160.00" y="266.00" width="18.00" height="14.00" fill="#c1c1c1" />
<polygon points="27.00,287.00 162.00,287.00 162.00,296.00 27.00,296.00" fill="#a9a9a9" />
<polygon points="162.00,284.00 200.00,284.00 200.00,299.00 162.00,299.00" fill="#b0b0b0" />
<polygon points="2.40,283.00 10.00,279.00 31.00,279.00 30.00,283.00" fill="#efefef" />
<rect x="2.40" y="283.00" width="27.60" height="17.00" fill="#e2e2e2" />
<polygon points="35.30,290.00 69.40,292.00 67.30,312.40 31.40,312.40" fill="#bebebe" />
<polygon points="31.40,312.40 67.30,312.40 67.30,324.40 31.40,324.40" fill="#a3a3a3" />
<polygon points="77.20,290.00 109.20,292.00 110.10,311.00 74.80,311.00" fill="#bebebe" />
<polygon points="74.80,311.00 110.10,311.00 110.10,322.90 74.80,322.90" fill="#a3a3a3" />
<polygon points="117.30,290.00 149.70,292.00 152.60,309.40 116.70,309.40" fill="#bebebe" />
<polygon points="116.70,309.40 152.60,309.40 152.60,321.40 116.70,321.40" fill="#a3a3a3" />
<polygon points="161.60,290.00 197.50,292.00 200.00,307.90 163.10,307.90" fill="#bebebe" />
<polygon points="163.10,307.90 200.00,307.90 200.00,322.90 163.10,322.90" fill="#a3a3a3" />
<circle cx="60.20" cy="219.20" r="4.55" fill="#3b3b3b" />
<circle cx="59.40" cy="227.70" r="4.55" fill="#3b3b3b" />
<circle cx="60.50" cy="232.30" r="4.55" fill="#3b3b3b" />
<circle cx="41.40" cy="236.30" r="4.55" fill="#3b3b3b" />
<circle cx="50.00" cy="235.60" r="4.55" fill="#3b3b3b" />
<circle cx="66.40" cy="233.00" r="4.55" fill="#3b3b3b" />
<circle cx="74.30" cy="235.00" r="4.55" fill="#3b3b3b" />
<circle cx="64.40" cy="239.60" r="4.55" fill="#3b3b3b" />
<circle cx="55.20" cy="238.90" r="4.55" fill="#3b3b3b" />
<circle cx="49.30" cy="242.20" r="4.55" fill="#3b3b3b" />
<circle cx="44.70" cy="245.50" r="4.55" fill="#3b3b3b" />
<circle cx="38.10" cy="252.00" r="4.55" fill="#3b3b3b" />
<circle cx="33.50" cy="258.60" r="4.55" fill="#3b3b3b" />
<circle cx="48.00" cy="251.40" r="4.55" fill="#3b3b3b" />
<circle cx="52.60" cy="257.30" r="4.55" fill="#3b3b3b" />
<circle cx="56.50" cy="262.60" r="4.55" fill="#3b3b3b" />
<circle cx="52.60" cy="266.50" r="4.55" fill="#3b3b3b" />
<circle cx="46.00" cy="271.10" r="4.55" fill="#3b3b3b" />
<circle cx="63.10" cy="262.60" r="4.55" fill="#3b3b3b" />
<circle cx="68.40" cy="265.20" r="4.55" fill="#3b3b3b" />
<circle cx="74.30" cy="258.60" r="4.55" fill="#3b3b3b" />
<circle cx="76.90" cy="266.50" r="4.55" fill="#3b3b3b" />
<circle cx="82.80" cy="256.00" r="4.55" fill="#3b3b3b" />
<circle cx="85.40" cy="267.80" r="4.55" fill="#3b3b3b" />
<circle cx="93.30" cy="267.20" r="4.55" fill="#3b3b3b" />
<circle cx="90.70" cy="257.30" r="4.55" fill="#3b3b3b" />
<circle cx="98.60" cy="257.30" r="4.55" fill="#3b3b3b" />
<circle cx="106.50" cy="258.60" r="4.55" fill="#3b3b3b" />
<circle cx="113.00" cy="253.40" r="4.55" fill="#3b3b3b" />
<circle cx="72.30" cy="242.80" r="4.55" fill="#3b3b3b" />
<circle cx="80.20" cy="240.20" r="4.55" fill="#3b3b3b" />
<circle cx="81.50" cy="248.10" r="4.55" fill="#3b3b3b" />
<circle cx="89.40" cy="238.20" r="4.55" fill="#3b3b3b" />
<circle cx="98.60" cy="238.20" r="4.55" fill="#3b3b3b" />
<circle cx="107.10" cy="240.20" r="4.55" fill="#3b3b3b" />
<circle cx="113.00" cy="241.50" r="4.55" fill="#3b3b3b" />
<circle cx="70.30" cy="235.60" r="4.55" fill="#3b3b3b" />
<circle cx="107.80" cy="240.40" r="4.55" fill="#3b3b3b" />
<circle cx="115.40" cy="241.80" r="4.55" fill="#3b3b3b" />
<circle cx="123.00" cy="243.10" r="4.55" fill="#3b3b3b" />
<circle cx="129.30" cy="232.70" r="4.55" fill="#3b3b3b" />
<circle cx="137.60" cy="232.00" r="4.55" fill="#3b3b3b" />
<circle cx="146.60" cy="232.70" r="4.55" fill="#3b3b3b" />
<circle cx="154.20" cy="235.50" r="4.55" fill="#3b3b3b" />
<circle cx="161.90" cy="239.00" r="4.55" fill="#3b3b3b" />
<circle cx="169.50" cy="234.80" r="4.55" fill="#3b3b3b" />
<circle cx="177.10" cy="230.70" r="4.55" fill="#3b3b3b" />
<circle cx="168.80" cy="242.40" r="4.55" fill="#3b3b3b" />
<circle cx="173.00" cy="250.80" r="4.55" fill="#3b3b3b" />
<circle cx="131.40" cy="241.80" r="4.55" fill="#3b3b3b" />
<circle cx="121.60" cy="248.00" r="4.55" fill="#3b3b3b" />
<circle cx="130.70" cy="249.40" r="4.55" fill="#3b3b3b" />
<circle cx="134.80" cy="257.70" r="4.55" fill="#3b3b3b" />
<circle cx="132.70" cy="266.00" r="4.55" fill="#3b3b3b" />
<circle cx="114.70" cy="253.50" r="4.55" fill="#3b3b3b" />
<circle cx="107.80" cy="258.40" r="4.55" fill="#3b3b3b" />
<circle cx="116.10" cy="261.90" r="4.55" fill="#3b3b3b" />
<circle cx="121.60" cy="268.80" r="4.55" fill="#3b3b3b" />
<circle cx="122.30" cy="277.80" r="4.55" fill="#3b3b3b" />
<circle cx="144.50" cy="242.40" r="4.55" fill="#3b3b3b" />
<circle cx="150.80" cy="249.40" r="4.55" fill="#3b3b3b" />
<circle cx="150.80" cy="257.00" r="4.55" fill="#3b3b3b" />
<circle cx="143.10" cy="261.20" r="4.55" fill="#3b3b3b" />
<circle cx="157.70" cy="253.50" r="4.55" fill="#3b3b3b" />
<circle cx="165.30" cy="255.60" r="4.55" fill="#3b3b3b" />
<circle cx="172.30" cy="259.10" r="4.55" fill="#3b3b3b" />
<circle cx="182.70" cy="258.40" r="4.55" fill="#3b3b3b" />
<circle cx="191.00" cy="258.40" r="4.55" fill="#3b3b3b" />
<circle cx="139.70" cy="239.70" r="4.55" fill="#3b3b3b" />
<circle cx="58.90" cy="217.90" r="1.60" fill="#454545" />
<circle cx="58.10" cy="226.40" r="1.60" fill="#454545" />
<circle cx="59.20" cy="231.00" r="1.60" fill="#454545" />
<circle cx="40.10" cy="235.00" r="1.60" fill="#454545" />
<circle cx="48.70" cy="234.30" r="1.60" fill="#454545" />
<circle cx="65.10" cy="231.70" r="1.60" fill="#454545" />
<circle cx="73.00" cy="233.70" r="1.60" fill="#454545" />
<circle cx="63.10" cy="238.30" r="1.60" fill="#454545" />
<circle cx="53.90" cy="237.60" r="1.60" fill="#454545" />
<circle cx="48.00" cy="240.90" r="1.60" fill="#454545" />
<circle cx="43.40" cy="244.20" r="1.60" fill="#454545" />
<circle cx="36.80" cy="250.70" r="1.60" fill="#454545" />
<circle cx="32.20" cy="257.30" r="1.60" fill="#454545" />
<circle cx="46.70" cy="250.10" r="1.60" fill="#454545" />
<circle cx="51.30" cy="256.00" r="1.60" fill="#454545" />
<circle cx="55.20" cy="261.30" r="1.60" fill="#454545" />
<circle cx="51.30" cy="265.20" r="1.60" fill="#454545" />
<circle cx="44.70" cy="269.80" r="1.60" fill="#454545" />
<circle cx="61.80" cy="261.30" r="1.60" fill="#454545" />
<circle cx="67.10" cy="263.90" r="1.60" fill="#454545" />
<circle cx="73.00" cy="257.30" r="1.60" fill="#454545" />
<circle cx="75.60" cy="265.20" r="1.60" fill="#454545" />
<circle cx="81.50" cy="254.70" r="1.60" fill="#454545" />
<circle cx="84.10" cy="266.50" r="1.60" fill="#454545" />
<circle cx="92.00" cy="265.90" r="1.60" fill="#454545" />
<circle cx="89.40" cy="256.00" r="1.60" fill="#454545" />
<circle cx="97.30" cy="256.00" r="1.60" fill="#454545" />
<circle cx="105.20" cy="257.30" r="1.60" fill="#454545" />
<circle cx="111.70" cy="252.10" r="1.60" fill="#454545" />
<circle cx="71.00" cy="241.50" r="1.60" fill="#454545" />
<circle cx="78.90" cy="238.90" r="1.60" fill="#454545" />
<circle cx="80.20" cy="246.80" r="1.60" fill="#454545" />
<circle cx="88.10" cy="236.90" r="1.60" fill="#454545" />
<circle cx="97.30" cy="236.90" r="1.60" fill="#454545" />
<circle cx="105.80" cy="238.90" r="1.60" fill="#454545" />
<circle cx="111.70" cy="240.20" r="1.60" fill="#454545" />
<circle cx="69.00" cy="234.30" r="1.60" fill="#454545" />
<circle cx="106.50" cy="239.10" r="1.60" fill="#454545" />
<circle cx="114.10" cy="240.50" r="1.60" fill="#454545" />
<circle cx="121.70" cy="241.80" r="1.60" fill="#454545" />
<circle cx="128.00" cy="231.40" r="1.60" fill="#454545" />
<circle cx="136.30" cy="230.70" r="1.60" fill="#454545" />
<circle cx="145.30" cy="231.40" r="1.60" fill="#454545" />
<circle cx="152.90" cy="234.20" r="1.60" fill="#454545" />
<circle cx="160.60" cy="237.70" r="1.60" fill="#454545" />
<circle cx="168.20" cy="233.50" r="1.60" fill="#454545" />
<circle cx="175.80" cy="229.40" r="1.60" fill="#454545" />
<circle cx="167.50" cy="241.10" r="1.60" fill="#454545" />
<circle cx="171.70" cy="249.50" r="1.60" fill="#454545" />
<circle cx="130.10" cy="240.50" r="1.60" fill="#454545" />
<circle cx="120.30" cy="246.70" r="1.60" fill="#454545" />
<circle cx="129.40" cy="248.10" r="1.60" fill="#454545" />
<circle cx="133.50" cy="256.40" r="1.60" fill="#454545" />
<circle cx="131.40" cy="264.70" r="1.60" fill="#454545" />
<circle cx="113.40" cy="252.20" r="1.60" fill="#454545" />
<circle cx="106.50" cy="257.10" r="1.60" fill="#454545" />
<circle cx="114.80" cy="260.60" r="1.60" fill="#454545" />
<circle cx="120.30" cy="267.50" r="1.60" fill="#454545" />
<circle cx="121.00" cy="276.50" r="1.60" fill="#454545" />
<circle cx="143.20" cy="241.10" r="1.60" fill="#454545" />
<circle cx="149.50" cy="248.10" r="1.60" fill="#454545" />
<circle cx="149.50" cy="255.70" r="1.60" fill="#454545" />
<circle cx="141.80" cy="259.90" r="1.60" fill="#454545" />
<circle cx="156.40" cy="252.20" r="1.60" fill="#454545" />
<circle cx="164.00" cy="254.30" r="1.60" fill="#454545" />
<circle cx="171.00" cy="257.80" r="1.60" fill="#454545" />
<circle cx="181.40" cy="257.10" r="1.60" fill="#454545" />
<circle cx="189.70" cy="257.10" r="1.60" fill="#454545" />
<circle cx="138.40" cy="238.40" r="1.60" fill="#454545" />
<path d="M63.2,215.5 Q96,253.5 132.5,218.5" fill="none" stroke="#1f5fae" stroke-width="3.7"/>
<polygon points="128.50,216.80 138.60,214.20 134.40,223.40" fill="#1f5fae" />
<defs><radialGradient id="gg" cx="0.4" cy="0.35" r="0.7"><stop offset="0" stop-color="#a8dca0"/><stop offset="0.6" stop-color="#5cae5a"/><stop offset="1" stop-color="#3f8e44"/></radialGradient></defs>
<circle cx="57.00" cy="206.30" r="6.70" fill="url(#gg)" />
<text x="57.00" y="208.70" font-size="7" text-anchor="middle" fill="#1a2a1a" font-weight="bold" >H</text>
<circle cx="71.40" cy="206.90" r="6.70" fill="url(#gg)" />
<text x="71.40" y="209.30" font-size="7" text-anchor="middle" fill="#1a2a1a" font-weight="bold" >H</text>
<circle cx="127.00" cy="209.20" r="6.70" fill="url(#gg)" />
<text x="127.00" y="211.60" font-size="7" text-anchor="middle" fill="#1a2a1a" font-weight="bold" >H</text>
<circle cx="141.00" cy="210.10" r="6.70" fill="url(#gg)" />
<text x="141.00" y="212.50" font-size="7" text-anchor="middle" fill="#1a2a1a" font-weight="bold" >H</text>
<text x="101.00" y="284.30" font-size="7.4" text-anchor="middle" fill="#fff" font-weight="bold" >Paper</text>
<text x="0.00" y="0.00" font-size="7.5" text-anchor="middle" fill="#1a1a1a" font-weight="bold" transform="translate(25.0,252.6) rotate(-66.4)">Silver contact</text>
<text x="211.80" y="188.00" font-size="15.8" text-anchor="start" fill="#231815" font-weight="bold" >e</text>
<rect x="248.30" y="193.30" width="8.60" height="129.40" fill="#c8b0d2" />
<rect x="266.10" y="193.30" width="8.60" height="129.40" fill="#c8b0d2" />
<rect x="282.90" y="193.30" width="8.60" height="129.40" fill="#c8b0d2" />
<rect x="300.10" y="193.30" width="8.60" height="129.40" fill="#c8b0d2" />
<rect x="316.20" y="193.30" width="8.60" height="129.40" fill="#c8b0d2" />
<rect x="333.40" y="193.30" width="8.60" height="129.40" fill="#c8b0d2" />
<rect x="350.40" y="193.30" width="8.60" height="129.40" fill="#c8b0d2" />
<rect x="367.20" y="193.30" width="8.60" height="129.40" fill="#c8b0d2" />
<rect x="384.20" y="193.30" width="8.60" height="129.40" fill="#c8b0d2" />
<rect x="401.00" y="193.30" width="8.60" height="129.40" fill="#c8b0d2" />
<polyline points="247.60,295.60 248.30,296.00 248.66,268.90 249.02,250.70 249.38,238.48 249.73,230.28 250.09,224.76 250.45,221.06 250.81,218.58 251.17,216.91 251.53,215.79 251.88,215.03 252.24,214.53 252.60,214.19 252.96,213.96 253.32,213.81 253.68,213.70 254.03,213.64 254.39,213.59 254.75,213.56 255.11,213.54 255.47,213.52 255.83,213.51 256.18,213.51 256.54,213.50 256.90,213.50 257.28,222.55 257.67,235.31 258.05,248.05 258.43,259.44 258.82,268.98 259.20,276.60 259.58,282.47 259.97,286.86 260.35,290.05 260.73,292.32 261.12,293.90 261.50,294.98 261.88,295.70 262.27,296.17 262.65,296.48 263.03,296.68 263.42,296.80 263.80,296.88 264.18,296.93 264.57,296.96 264.95,296.98 265.33,296.99 265.72,296.99 266.10,297.00 266.10,297.00 266.46,271.02 266.82,253.57 267.18,241.85 267.53,233.98 267.89,228.70 268.25,225.15 268.61,222.77 268.97,221.17 269.33,220.09 269.68,219.37 270.04,218.89 270.40,218.56 270.76,218.34 271.12,218.19 271.48,218.10 271.83,218.03 272.19,217.99 272.55,217.96 272.91,217.94 273.27,217.92 273.63,217.91 273.98,217.91 274.34,217.90 274.70,217.90 275.04,225.28 275.38,235.91 275.73,246.87 276.07,257.03 276.41,265.89 276.75,273.31 277.09,279.30 277.43,284.02 277.78,287.65 278.12,290.38 278.46,292.39 278.80,293.86 279.14,294.90 279.48,295.64 279.82,296.15 280.17,296.50 280.51,296.74 280.85,296.90 281.19,297.01 281.53,297.08 281.88,297.12 282.22,297.15 282.56,297.17 282.90,297.18 282.90,297.20 283.26,272.66 283.62,256.19 283.97,245.12 284.33,237.69 284.69,232.70 285.05,229.35 285.41,227.10 285.77,225.59 286.12,224.57 286.48,223.89 286.84,223.43 287.20,223.12 287.56,222.92 287.92,222.78 288.27,222.69 288.63,222.62 288.99,222.58 289.35,222.55 289.71,222.53 290.07,222.52 290.43,222.51 290.78,222.51 291.14,222.50 291.50,222.50 291.86,229.91 292.22,240.51 292.57,251.29 292.93,261.14 293.29,269.60 293.65,276.55 294.01,282.07 294.37,286.32 294.73,289.51 295.08,291.86 295.44,293.56 295.80,294.76 296.16,295.60 296.52,296.18 296.88,296.57 297.23,296.83 297.59,297.00 297.95,297.11 298.31,297.18 298.67,297.23 299.03,297.25 299.38,297.27 299.74,297.28 300.10,297.29 300.10,297.30 300.46,274.67 300.82,259.47 301.18,249.26 301.53,242.41 301.89,237.81 302.25,234.72 302.61,232.64 302.97,231.25 303.33,230.31 303.68,229.68 304.04,229.26 304.40,228.97 304.76,228.78 305.12,228.66 305.48,228.57 305.83,228.51 306.19,228.47 306.55,228.45 306.91,228.43 307.27,228.42 307.63,228.41 307.98,228.41 308.34,228.40 308.70,228.40 309.01,234.11 309.33,242.46 309.64,251.24 309.95,259.58 310.26,267.07 310.58,273.53 310.89,278.93 311.20,283.32 311.51,286.83 311.83,289.57 312.14,291.68 312.45,293.27 312.76,294.47 313.07,295.34 313.39,295.98 313.70,296.44 314.01,296.77 314.32,297.00 314.64,297.16 314.95,297.27 315.26,297.35 315.57,297.40 315.89,297.43 316.20,297.46 316.20,297.50 316.56,276.41 316.92,262.25 317.27,252.74 317.63,246.35 317.99,242.07 318.35,239.19 318.71,237.25 319.07,235.95 319.43,235.08 319.78,234.49 320.14,234.10 320.50,233.84 320.86,233.66 321.22,233.54 321.57,233.46 321.93,233.41 322.29,233.37 322.65,233.35 323.01,233.33 323.37,233.32 323.73,233.31 324.08,233.31 324.44,233.30 324.80,233.30 325.16,239.67 325.52,248.78 325.88,258.05 326.23,266.52 326.59,273.79 326.95,279.77 327.31,284.50 327.67,288.16 328.02,290.91 328.38,292.93 328.74,294.39 329.10,295.42 329.46,296.14 329.82,296.64 330.18,296.97 330.53,297.19 330.89,297.34 331.25,297.44 331.61,297.50 331.97,297.54 332.32,297.56 332.68,297.58 333.04,297.59 333.40,297.59 333.40,297.60 333.76,278.09 334.12,264.99 334.47,256.19 334.83,250.28 335.19,246.31 335.55,243.65 335.91,241.86 336.27,240.65 336.62,239.85 336.98,239.30 337.34,238.94 337.70,238.70 338.06,238.53 338.42,238.42 338.77,238.35 339.13,238.30 339.49,238.26 339.85,238.24 340.21,238.23 340.57,238.22 340.93,238.21 341.28,238.21 341.64,238.20 342.00,238.20 342.35,243.93 342.70,252.14 343.05,260.56 343.40,268.30 343.75,275.01 344.10,280.57 344.45,285.02 344.80,288.49 345.15,291.12 345.50,293.09 345.85,294.52 346.20,295.55 346.55,296.27 346.90,296.78 347.25,297.12 347.60,297.36 347.95,297.51 348.30,297.62 348.65,297.68 349.00,297.73 349.35,297.75 349.70,297.77 350.05,297.78 350.40,297.79 350.40,297.80 350.76,280.79 351.12,269.36 351.47,261.69 351.83,256.53 352.19,253.07 352.55,250.75 352.91,249.19 353.27,248.14 353.62,247.44 353.98,246.96 354.34,246.65 354.70,246.43 355.06,246.29 355.42,246.19 355.77,246.13 356.13,246.08 356.49,246.06 356.85,246.04 357.21,246.02 357.57,246.01 357.93,246.01 358.28,246.00 358.64,246.00 359.00,246.00 359.34,250.83 359.68,257.79 360.02,264.96 360.37,271.61 360.71,277.41 361.05,282.26 361.39,286.19 361.73,289.28 362.07,291.65 362.42,293.43 362.76,294.75 363.10,295.71 363.44,296.40 363.78,296.88 364.12,297.21 364.47,297.44 364.81,297.60 365.15,297.71 365.49,297.77 365.83,297.82 366.18,297.85 366.52,297.87 366.86,297.88 367.20,297.89 367.20,297.90 367.56,283.41 367.92,273.69 368.27,267.15 368.63,262.77 368.99,259.82 369.35,257.84 369.71,256.51 370.07,255.62 370.43,255.02 370.78,254.62 371.14,254.35 371.50,254.17 371.86,254.05 372.22,253.96 372.57,253.91 372.93,253.87 373.29,253.85 373.65,253.83 374.01,253.82 374.37,253.81 374.73,253.81 375.08,253.80 375.44,253.80 375.80,253.80 376.15,258.05 376.50,264.14 376.85,270.38 377.20,276.13 377.55,281.10 377.90,285.22 378.25,288.52 378.60,291.09 378.95,293.05 379.30,294.50 379.65,295.57 380.00,296.33 380.35,296.87 380.70,297.24 381.05,297.50 381.40,297.67 381.75,297.79 382.10,297.86 382.45,297.91 382.80,297.95 383.15,297.97 383.50,297.98 383.85,297.99 384.20,297.99 384.20,298.00 384.56,286.34 384.92,278.51 385.27,273.25 385.63,269.72 385.99,267.35 386.35,265.75 386.71,264.68 387.07,263.97 387.43,263.48 387.78,263.16 388.14,262.94 388.50,262.80 388.86,262.70 389.22,262.63 389.57,262.59 389.93,262.56 390.29,262.54 390.65,262.52 391.01,262.52 391.37,262.51 391.73,262.51 392.08,262.50 392.44,262.50 392.80,262.50 393.14,265.81 393.48,270.59 393.82,275.50 394.17,280.07 394.51,284.05 394.85,287.37 395.19,290.07 395.53,292.18 395.88,293.81 396.22,295.04 396.56,295.94 396.90,296.60 397.24,297.07 397.58,297.40 397.93,297.63 398.27,297.79 398.61,297.89 398.95,297.97 399.29,298.01 399.63,298.05 399.98,298.07 400.32,298.08 400.66,298.09 401.00,298.09 401.00,298.10 401.36,290.18 401.72,284.87 402.07,281.30 402.43,278.90 402.79,277.29 403.15,276.21 403.51,275.48 403.87,275.00 404.23,274.67 404.58,274.45 404.94,274.30 405.30,274.20 405.66,274.13 406.02,274.09 406.38,274.06 406.73,274.04 407.09,274.03 407.45,274.02 407.81,274.01 408.17,274.01 408.53,274.00 408.88,274.00 409.24,274.00 409.60,274.00 409.93,276.14 410.26,279.25 410.59,282.48 410.92,285.51 411.25,288.18 411.58,290.45 411.90,292.31 412.23,293.79 412.56,294.95 412.89,295.84 413.22,296.51 413.55,297.00 413.88,297.36 414.21,297.62 414.54,297.80 414.87,297.93 415.20,298.02 415.52,298.08 415.85,298.12 416.18,298.15 416.51,298.17 416.84,298.18 417.17,298.19 417.50,298.19" fill="none" stroke="#6a6a72" stroke-width="0.9" stroke-linejoin="round" stroke-linecap="round" />
<polyline points="248.30,296.00 248.66,268.90 249.02,250.70 249.38,238.48 249.73,230.28 250.09,224.76 250.45,221.06 250.81,218.58 251.17,216.91 251.53,215.79 251.88,215.03 252.24,214.53 252.60,214.19 252.96,213.96 253.32,213.81 253.68,213.70 254.03,213.64 254.39,213.59 254.75,213.56 255.11,213.54 255.47,213.52 255.83,213.51 256.18,213.51 256.54,213.50 256.90,213.50" fill="none" stroke="#7a6a9a" stroke-width="0.9" stroke-linejoin="round" stroke-linecap="round" />
<polyline points="266.10,297.00 266.46,271.02 266.82,253.57 267.18,241.85 267.53,233.98 267.89,228.70 268.25,225.15 268.61,222.77 268.97,221.17 269.33,220.09 269.68,219.37 270.04,218.89 270.40,218.56 270.76,218.34 271.12,218.19 271.48,218.10 271.83,218.03 272.19,217.99 272.55,217.96 272.91,217.94 273.27,217.92 273.63,217.91 273.98,217.91 274.34,217.90 274.70,217.90" fill="none" stroke="#7a6a9a" stroke-width="0.9" stroke-linejoin="round" stroke-linecap="round" />
<polyline points="282.90,297.20 283.26,272.66 283.62,256.19 283.97,245.12 284.33,237.69 284.69,232.70 285.05,229.35 285.41,227.10 285.77,225.59 286.12,224.57 286.48,223.89 286.84,223.43 287.20,223.12 287.56,222.92 287.92,222.78 288.27,222.69 288.63,222.62 288.99,222.58 289.35,222.55 289.71,222.53 290.07,222.52 290.43,222.51 290.78,222.51 291.14,222.50 291.50,222.50" fill="none" stroke="#7a6a9a" stroke-width="0.9" stroke-linejoin="round" stroke-linecap="round" />
<polyline points="300.10,297.30 300.46,274.67 300.82,259.47 301.18,249.26 301.53,242.41 301.89,237.81 302.25,234.72 302.61,232.64 302.97,231.25 303.33,230.31 303.68,229.68 304.04,229.26 304.40,228.97 304.76,228.78 305.12,228.66 305.48,228.57 305.83,228.51 306.19,228.47 306.55,228.45 306.91,228.43 307.27,228.42 307.63,228.41 307.98,228.41 308.34,228.40 308.70,228.40" fill="none" stroke="#7a6a9a" stroke-width="0.9" stroke-linejoin="round" stroke-linecap="round" />
<polyline points="316.20,297.50 316.56,276.41 316.92,262.25 317.27,252.74 317.63,246.35 317.99,242.07 318.35,239.19 318.71,237.25 319.07,235.95 319.43,235.08 319.78,234.49 320.14,234.10 320.50,233.84 320.86,233.66 321.22,233.54 321.57,233.46 321.93,233.41 322.29,233.37 322.65,233.35 323.01,233.33 323.37,233.32 323.73,233.31 324.08,233.31 324.44,233.30 324.80,233.30" fill="none" stroke="#7a6a9a" stroke-width="0.9" stroke-linejoin="round" stroke-linecap="round" />
<polyline points="333.40,297.60 333.76,278.09 334.12,264.99 334.47,256.19 334.83,250.28 335.19,246.31 335.55,243.65 335.91,241.86 336.27,240.65 336.62,239.85 336.98,239.30 337.34,238.94 337.70,238.70 338.06,238.53 338.42,238.42 338.77,238.35 339.13,238.30 339.49,238.26 339.85,238.24 340.21,238.23 340.57,238.22 340.93,238.21 341.28,238.21 341.64,238.20 342.00,238.20" fill="none" stroke="#7a6a9a" stroke-width="0.9" stroke-linejoin="round" stroke-linecap="round" />
<polyline points="350.40,297.80 350.76,280.79 351.12,269.36 351.47,261.69 351.83,256.53 352.19,253.07 352.55,250.75 352.91,249.19 353.27,248.14 353.62,247.44 353.98,246.96 354.34,246.65 354.70,246.43 355.06,246.29 355.42,246.19 355.77,246.13 356.13,246.08 356.49,246.06 356.85,246.04 357.21,246.02 357.57,246.01 357.93,246.01 358.28,246.00 358.64,246.00 359.00,246.00" fill="none" stroke="#7a6a9a" stroke-width="0.9" stroke-linejoin="round" stroke-linecap="round" />
<polyline points="367.20,297.90 367.56,283.41 367.92,273.69 368.27,267.15 368.63,262.77 368.99,259.82 369.35,257.84 369.71,256.51 370.07,255.62 370.43,255.02 370.78,254.62 371.14,254.35 371.50,254.17 371.86,254.05 372.22,253.96 372.57,253.91 372.93,253.87 373.29,253.85 373.65,253.83 374.01,253.82 374.37,253.81 374.73,253.81 375.08,253.80 375.44,253.80 375.80,253.80" fill="none" stroke="#7a6a9a" stroke-width="0.9" stroke-linejoin="round" stroke-linecap="round" />
<polyline points="384.20,298.00 384.56,286.34 384.92,278.51 385.27,273.25 385.63,269.72 385.99,267.35 386.35,265.75 386.71,264.68 387.07,263.97 387.43,263.48 387.78,263.16 388.14,262.94 388.50,262.80 388.86,262.70 389.22,262.63 389.57,262.59 389.93,262.56 390.29,262.54 390.65,262.52 391.01,262.52 391.37,262.51 391.73,262.51 392.08,262.50 392.44,262.50 392.80,262.50" fill="none" stroke="#7a6a9a" stroke-width="0.9" stroke-linejoin="round" stroke-linecap="round" />
<polyline points="401.00,298.10 401.36,290.18 401.72,284.87 402.07,281.30 402.43,278.90 402.79,277.29 403.15,276.21 403.51,275.48 403.87,275.00 404.23,274.67 404.58,274.45 404.94,274.30 405.30,274.20 405.66,274.13 406.02,274.09 406.38,274.06 406.73,274.04 407.09,274.03 407.45,274.02 407.81,274.01 408.17,274.01 408.53,274.00 408.88,274.00 409.24,274.00 409.60,274.00" fill="none" stroke="#7a6a9a" stroke-width="0.9" stroke-linejoin="round" stroke-linecap="round" />
<polyline points="250.45,221.06 250.81,218.58 251.17,216.91 251.53,215.79 251.88,215.03 252.24,214.53 252.60,214.19 252.96,213.96 253.32,213.81 253.68,213.70 254.03,213.64 254.39,213.59 254.75,213.56 255.11,213.54 255.47,213.52 255.83,213.51 256.18,213.51 256.54,213.50 256.90,213.50" fill="none" stroke="#231a50" stroke-width="1.7" stroke-linejoin="round" stroke-linecap="round" />
<polyline points="261.50,294.98 261.88,295.70 262.27,296.17 262.65,296.48 263.03,296.68 263.42,296.80 263.80,296.88 264.18,296.93 264.57,296.96 264.95,296.98 265.33,296.99 265.72,296.99 266.10,297.00" fill="none" stroke="#231a50" stroke-width="1.7" stroke-linejoin="round" stroke-linecap="round" />
<polyline points="268.25,225.15 268.61,222.77 268.97,221.17 269.33,220.09 269.68,219.37 270.04,218.89 270.40,218.56 270.76,218.34 271.12,218.19 271.48,218.10 271.83,218.03 272.19,217.99 272.55,217.96 272.91,217.94 273.27,217.92 273.63,217.91 273.98,217.91 274.34,217.90 274.70,217.90" fill="none" stroke="#231a50" stroke-width="1.7" stroke-linejoin="round" stroke-linecap="round" />
<polyline points="279.14,294.90 279.48,295.64 279.82,296.15 280.17,296.50 280.51,296.74 280.85,296.90 281.19,297.01 281.53,297.08 281.88,297.12 282.22,297.15 282.56,297.17 282.90,297.18" fill="none" stroke="#231a50" stroke-width="1.7" stroke-linejoin="round" stroke-linecap="round" />
<polyline points="285.05,229.35 285.41,227.10 285.77,225.59 286.12,224.57 286.48,223.89 286.84,223.43 287.20,223.12 287.56,222.92 287.92,222.78 288.27,222.69 288.63,222.62 288.99,222.58 289.35,222.55 289.71,222.53 290.07,222.52 290.43,222.51 290.78,222.51 291.14,222.50 291.50,222.50" fill="none" stroke="#231a50" stroke-width="1.7" stroke-linejoin="round" stroke-linecap="round" />
<polyline points="295.80,294.76 296.16,295.60 296.52,296.18 296.88,296.57 297.23,296.83 297.59,297.00 297.95,297.11 298.31,297.18 298.67,297.23 299.03,297.25 299.38,297.27 299.74,297.28 300.10,297.29" fill="none" stroke="#231a50" stroke-width="1.7" stroke-linejoin="round" stroke-linecap="round" />
<polyline points="302.25,234.72 302.61,232.64 302.97,231.25 303.33,230.31 303.68,229.68 304.04,229.26 304.40,228.97 304.76,228.78 305.12,228.66 305.48,228.57 305.83,228.51 306.19,228.47 306.55,228.45 306.91,228.43 307.27,228.42 307.63,228.41 307.98,228.41 308.34,228.40 308.70,228.40" fill="none" stroke="#231a50" stroke-width="1.7" stroke-linejoin="round" stroke-linecap="round" />
<polyline points="313.07,295.34 313.39,295.98 313.70,296.44 314.01,296.77 314.32,297.00 314.64,297.16 314.95,297.27 315.26,297.35 315.57,297.40 315.89,297.43 316.20,297.46" fill="none" stroke="#231a50" stroke-width="1.7" stroke-linejoin="round" stroke-linecap="round" />
<polyline points="317.99,242.07 318.35,239.19 318.71,237.25 319.07,235.95 319.43,235.08 319.78,234.49 320.14,234.10 320.50,233.84 320.86,233.66 321.22,233.54 321.57,233.46 321.93,233.41 322.29,233.37 322.65,233.35 323.01,233.33 323.37,233.32 323.73,233.31 324.08,233.31 324.44,233.30 324.80,233.30" fill="none" stroke="#231a50" stroke-width="1.7" stroke-linejoin="round" stroke-linecap="round" />
<polyline points="329.10,295.42 329.46,296.14 329.82,296.64 330.18,296.97 330.53,297.19 330.89,297.34 331.25,297.44 331.61,297.50 331.97,297.54 332.32,297.56 332.68,297.58 333.04,297.59 333.40,297.59" fill="none" stroke="#231a50" stroke-width="1.7" stroke-linejoin="round" stroke-linecap="round" />
<polyline points="335.19,246.31 335.55,243.65 335.91,241.86 336.27,240.65 336.62,239.85 336.98,239.30 337.34,238.94 337.70,238.70 338.06,238.53 338.42,238.42 338.77,238.35 339.13,238.30 339.49,238.26 339.85,238.24 340.21,238.23 340.57,238.22 340.93,238.21 341.28,238.21 341.64,238.20 342.00,238.20" fill="none" stroke="#231a50" stroke-width="1.7" stroke-linejoin="round" stroke-linecap="round" />
<polyline points="346.20,295.55 346.55,296.27 346.90,296.78 347.25,297.12 347.60,297.36 347.95,297.51 348.30,297.62 348.65,297.68 349.00,297.73 349.35,297.75 349.70,297.77 350.05,297.78 350.40,297.79" fill="none" stroke="#231a50" stroke-width="1.7" stroke-linejoin="round" stroke-linecap="round" />
<polyline points="352.19,253.07 352.55,250.75 352.91,249.19 353.27,248.14 353.62,247.44 353.98,246.96 354.34,246.65 354.70,246.43 355.06,246.29 355.42,246.19 355.77,246.13 356.13,246.08 356.49,246.06 356.85,246.04 357.21,246.02 357.57,246.01 357.93,246.01 358.28,246.00 358.64,246.00 359.00,246.00" fill="none" stroke="#231a50" stroke-width="1.7" stroke-linejoin="round" stroke-linecap="round" />
<polyline points="363.10,295.71 363.44,296.40 363.78,296.88 364.12,297.21 364.47,297.44 364.81,297.60 365.15,297.71 365.49,297.77 365.83,297.82 366.18,297.85 366.52,297.87 366.86,297.88 367.20,297.89" fill="none" stroke="#231a50" stroke-width="1.7" stroke-linejoin="round" stroke-linecap="round" />
<polyline points="368.63,262.77 368.99,259.82 369.35,257.84 369.71,256.51 370.07,255.62 370.43,255.02 370.78,254.62 371.14,254.35 371.50,254.17 371.86,254.05 372.22,253.96 372.57,253.91 372.93,253.87 373.29,253.85 373.65,253.83 374.01,253.82 374.37,253.81 374.73,253.81 375.08,253.80 375.44,253.80 375.80,253.80" fill="none" stroke="#231a50" stroke-width="1.7" stroke-linejoin="round" stroke-linecap="round" />
<polyline points="379.65,295.57 380.00,296.33 380.35,296.87 380.70,297.24 381.05,297.50 381.40,297.67 381.75,297.79 382.10,297.86 382.45,297.91 382.80,297.95 383.15,297.97 383.50,297.98 383.85,297.99 384.20,297.99" fill="none" stroke="#231a50" stroke-width="1.7" stroke-linejoin="round" stroke-linecap="round" />
<polyline points="385.63,269.72 385.99,267.35 386.35,265.75 386.71,264.68 387.07,263.97 387.43,263.48 387.78,263.16 388.14,262.94 388.50,262.80 388.86,262.70 389.22,262.63 389.57,262.59 389.93,262.56 390.29,262.54 390.65,262.52 391.01,262.52 391.37,262.51 391.73,262.51 392.08,262.50 392.44,262.50 392.80,262.50" fill="none" stroke="#231a50" stroke-width="1.7" stroke-linejoin="round" stroke-linecap="round" />
<polyline points="396.56,295.94 396.90,296.60 397.24,297.07 397.58,297.40 397.93,297.63 398.27,297.79 398.61,297.89 398.95,297.97 399.29,298.01 399.63,298.05 399.98,298.07 400.32,298.08 400.66,298.09 401.00,298.09" fill="none" stroke="#231a50" stroke-width="1.7" stroke-linejoin="round" stroke-linecap="round" />
<polyline points="402.07,281.30 402.43,278.90 402.79,277.29 403.15,276.21 403.51,275.48 403.87,275.00 404.23,274.67 404.58,274.45 404.94,274.30 405.30,274.20 405.66,274.13 406.02,274.09 406.38,274.06 406.73,274.04 407.09,274.03 407.45,274.02 407.81,274.01 408.17,274.01 408.53,274.00 408.88,274.00 409.24,274.00 409.60,274.00" fill="none" stroke="#231a50" stroke-width="1.7" stroke-linejoin="round" stroke-linecap="round" />
<polyline points="412.89,295.84 413.22,296.51 413.55,297.00 413.88,297.36 414.21,297.62 414.54,297.80 414.87,297.93 415.20,298.02 415.52,298.08 415.85,298.12 416.18,298.15 416.51,298.17 416.84,298.18 417.17,298.19 417.50,298.19" fill="none" stroke="#231a50" stroke-width="1.7" stroke-linejoin="round" stroke-linecap="round" />
<line x1="244.60" y1="179.10" x2="424.10" y2="179.10" stroke="#999" stroke-width="1.2" />
<line x1="244.60" y1="193.30" x2="424.10" y2="193.30" stroke="#333" stroke-width="1.0" />
<line x1="424.10" y1="179.10" x2="424.10" y2="322.70" stroke="#555" stroke-width="1.0" />
<line x1="244.60" y1="322.70" x2="424.10" y2="322.70" stroke="#333" stroke-width="1.0" />
<line x1="244.60" y1="179.10" x2="244.60" y2="324.70" stroke="#333" stroke-width="1.0" />
<line x1="252.60" y1="189.20" x2="252.60" y2="193.30" stroke="#444" stroke-width="0.8" />
<text x="252.60" y="186.30" font-size="7.5" text-anchor="middle" fill="#333" font-weight="normal" >1.0</text>
<line x1="270.40" y1="189.20" x2="270.40" y2="193.30" stroke="#444" stroke-width="0.8" />
<text x="270.40" y="186.30" font-size="7.5" text-anchor="middle" fill="#333" font-weight="normal" >0.9</text>
<line x1="287.20" y1="189.20" x2="287.20" y2="193.30" stroke="#444" stroke-width="0.8" />
<text x="287.20" y="186.30" font-size="7.5" text-anchor="middle" fill="#333" font-weight="normal" >0.8</text>
<line x1="304.40" y1="189.20" x2="304.40" y2="193.30" stroke="#444" stroke-width="0.8" />
<text x="304.40" y="186.30" font-size="7.5" text-anchor="middle" fill="#333" font-weight="normal" >0.7</text>
<line x1="320.50" y1="189.20" x2="320.50" y2="193.30" stroke="#444" stroke-width="0.8" />
<text x="320.50" y="186.30" font-size="7.5" text-anchor="middle" fill="#333" font-weight="normal" >0.6</text>
<line x1="337.70" y1="189.20" x2="337.70" y2="193.30" stroke="#444" stroke-width="0.8" />
<text x="337.70" y="186.30" font-size="7.5" text-anchor="middle" fill="#333" font-weight="normal" >0.5</text>
<line x1="354.70" y1="189.20" x2="354.70" y2="193.30" stroke="#444" stroke-width="0.8" />
<text x="354.70" y="186.30" font-size="7.5" text-anchor="middle" fill="#333" font-weight="normal" >0.4</text>
<line x1="371.50" y1="189.20" x2="371.50" y2="193.30" stroke="#444" stroke-width="0.8" />
<text x="371.50" y="186.30" font-size="7.5" text-anchor="middle" fill="#333" font-weight="normal" >0.3</text>
<line x1="388.50" y1="189.20" x2="388.50" y2="193.30" stroke="#444" stroke-width="0.8" />
<text x="388.50" y="186.30" font-size="7.5" text-anchor="middle" fill="#333" font-weight="normal" >0.2</text>
<line x1="405.30" y1="189.20" x2="405.30" y2="193.30" stroke="#444" stroke-width="0.8" />
<text x="405.30" y="186.30" font-size="7.5" text-anchor="middle" fill="#333" font-weight="normal" >0.1</text>
<text x="424.60" y="186.10" font-size="7.5" text-anchor="start" fill="#333" font-weight="normal" >[H<tspan font-size="4.8" dy="1.3">2</tspan><tspan dy="-1.3">](%)</tspan></text>
<line x1="242.30" y1="322.60" x2="244.60" y2="322.60" stroke="#333" stroke-width="0.9" />
<text x="239.00" y="325.10" font-size="7.0" text-anchor="end" fill="#333" font-weight="normal" >860</text>
<line x1="242.30" y1="300.60" x2="244.60" y2="300.60" stroke="#333" stroke-width="0.9" />
<text x="239.00" y="303.10" font-size="7.0" text-anchor="end" fill="#333" font-weight="normal" >870</text>
<line x1="242.30" y1="278.60" x2="244.60" y2="278.60" stroke="#333" stroke-width="0.9" />
<text x="239.00" y="281.10" font-size="7.0" text-anchor="end" fill="#333" font-weight="normal" >880</text>
<line x1="242.30" y1="256.60" x2="244.60" y2="256.60" stroke="#333" stroke-width="0.9" />
<text x="239.00" y="259.10" font-size="7.0" text-anchor="end" fill="#333" font-weight="normal" >890</text>
<line x1="242.30" y1="234.60" x2="244.60" y2="234.60" stroke="#333" stroke-width="0.9" />
<text x="239.00" y="237.10" font-size="7.0" text-anchor="end" fill="#333" font-weight="normal" >900</text>
<line x1="242.30" y1="212.60" x2="244.60" y2="212.60" stroke="#333" stroke-width="0.9" />
<text x="239.00" y="215.10" font-size="7.0" text-anchor="end" fill="#333" font-weight="normal" >910</text>
<line x1="242.30" y1="190.60" x2="244.60" y2="190.60" stroke="#333" stroke-width="0.9" />
<text x="239.00" y="193.10" font-size="7.0" text-anchor="end" fill="#333" font-weight="normal" >920</text>
<line x1="243.60" y1="311.60" x2="244.60" y2="311.60" stroke="#333" stroke-width="0.8" />
<line x1="243.60" y1="289.60" x2="244.60" y2="289.60" stroke="#333" stroke-width="0.8" />
<line x1="243.60" y1="267.60" x2="244.60" y2="267.60" stroke="#333" stroke-width="0.8" />
<line x1="243.60" y1="245.60" x2="244.60" y2="245.60" stroke="#333" stroke-width="0.8" />
<line x1="243.60" y1="223.60" x2="244.60" y2="223.60" stroke="#333" stroke-width="0.8" />
<line x1="243.60" y1="201.60" x2="244.60" y2="201.60" stroke="#333" stroke-width="0.8" />
<line x1="247.70" y1="322.70" x2="247.70" y2="325.00" stroke="#333" stroke-width="0.9" />
<text x="247.70" y="334.90" font-size="7.1" text-anchor="middle" fill="#333" font-weight="normal" >0</text>
<line x1="274.72" y1="322.70" x2="274.72" y2="325.00" stroke="#333" stroke-width="0.9" />
<text x="274.72" y="334.90" font-size="7.1" text-anchor="middle" fill="#333" font-weight="normal" >100</text>
<line x1="301.74" y1="322.70" x2="301.74" y2="325.00" stroke="#333" stroke-width="0.9" />
<text x="301.74" y="334.90" font-size="7.1" text-anchor="middle" fill="#333" font-weight="normal" >200</text>
<line x1="328.76" y1="322.70" x2="328.76" y2="325.00" stroke="#333" stroke-width="0.9" />
<text x="328.76" y="334.90" font-size="7.1" text-anchor="middle" fill="#333" font-weight="normal" >300</text>
<line x1="355.78" y1="322.70" x2="355.78" y2="325.00" stroke="#333" stroke-width="0.9" />
<text x="355.78" y="334.90" font-size="7.1" text-anchor="middle" fill="#333" font-weight="normal" >400</text>
<line x1="382.80" y1="322.70" x2="382.80" y2="325.00" stroke="#333" stroke-width="0.9" />
<text x="382.80" y="334.90" font-size="7.1" text-anchor="middle" fill="#333" font-weight="normal" >500</text>
<line x1="409.82" y1="322.70" x2="409.82" y2="325.00" stroke="#333" stroke-width="0.9" />
<text x="409.82" y="334.90" font-size="7.1" text-anchor="middle" fill="#333" font-weight="normal" >600</text>
<line x1="261.21" y1="322.70" x2="261.21" y2="324.10" stroke="#333" stroke-width="0.8" />
<line x1="288.23" y1="322.70" x2="288.23" y2="324.10" stroke="#333" stroke-width="0.8" />
<line x1="315.25" y1="322.70" x2="315.25" y2="324.10" stroke="#333" stroke-width="0.8" />
<line x1="342.27" y1="322.70" x2="342.27" y2="324.10" stroke="#333" stroke-width="0.8" />
<line x1="369.29" y1="322.70" x2="369.29" y2="324.10" stroke="#333" stroke-width="0.8" />
<line x1="396.31" y1="322.70" x2="396.31" y2="324.10" stroke="#333" stroke-width="0.8" />
<text x="334.80" y="343.60" font-size="7.3" text-anchor="middle" fill="#333" font-weight="normal" >Time (sec)</text>
<text x="0.00" y="0.00" font-size="7.5" text-anchor="middle" fill="#333" font-weight="normal" transform="translate(218.6,250.9) rotate(-90)">Resistance (ohm)</text>
<text x="249.50" y="316.20" font-size="6.9" text-anchor="start" fill="#333" font-weight="normal" >H<tspan font-size="4.5" dy="1.3">2</tspan><tspan dy="-1.3"> Air</tspan></text>
<text x="379.00" y="202.30" font-size="5.9" text-anchor="middle" fill="#333" font-weight="normal" >Polycrystalline PdNWs</text>
<circle cx="360.70" cy="207.40" r="3.00" fill="#4c4c4c" />
<circle cx="362.70" cy="213.10" r="3.00" fill="#4c4c4c" />
<circle cx="367.50" cy="216.20" r="3.00" fill="#4c4c4c" />
<circle cx="373.20" cy="215.90" r="3.00" fill="#4c4c4c" />
<circle cx="378.90" cy="215.30" r="3.00" fill="#4c4c4c" />
<circle cx="384.60" cy="213.80" r="3.00" fill="#4c4c4c" />
<circle cx="389.80" cy="211.80" r="3.00" fill="#4c4c4c" />
<circle cx="395.10" cy="208.80" r="3.00" fill="#4c4c4c" />
<circle cx="370.30" cy="220.60" r="3.00" fill="#4c4c4c" />
<circle cx="367.10" cy="225.80" r="3.00" fill="#4c4c4c" />
<text x="452.90" y="188.00" font-size="15.6" text-anchor="start" fill="#231815" font-weight="bold" >f</text>
<rect x="488.00" y="193.90" width="9.30" height="130.50" fill="#8ec8a6" />
<rect x="506.00" y="193.90" width="9.30" height="130.50" fill="#8ec8a6" />
<rect x="523.20" y="193.90" width="9.30" height="130.50" fill="#8ec8a6" />
<rect x="540.50" y="193.90" width="9.30" height="130.50" fill="#8ec8a6" />
<rect x="557.80" y="193.90" width="9.30" height="130.50" fill="#8ec8a6" />
<rect x="574.90" y="193.90" width="9.30" height="130.50" fill="#8ec8a6" />
<rect x="592.00" y="193.90" width="9.30" height="130.50" fill="#8ec8a6" />
<rect x="609.50" y="193.90" width="9.30" height="130.50" fill="#8ec8a6" />
<rect x="626.50" y="193.90" width="9.30" height="130.50" fill="#8ec8a6" />
<rect x="643.80" y="193.90" width="9.30" height="130.50" fill="#8ec8a6" />
<polyline points="486.90,290.30 488.00,290.30 488.39,263.07 488.77,243.92 489.16,230.46 489.55,220.99 489.94,214.34 490.32,209.66 490.71,206.37 491.10,204.06 491.49,202.43 491.88,201.29 492.26,200.48 492.65,199.92 493.04,199.52 493.43,199.24 493.81,199.05 494.20,198.91 494.59,198.81 494.98,198.74 495.36,198.69 495.75,198.66 496.14,198.64 496.53,198.62 496.91,198.61 497.30,198.60 497.66,211.38 498.03,226.22 498.39,239.88 498.75,251.60 499.11,261.28 499.48,269.04 499.84,275.15 500.20,279.86 500.56,283.44 500.93,286.14 501.29,288.14 501.65,289.62 502.01,290.69 502.38,291.47 502.74,292.03 503.10,292.43 503.46,292.71 503.82,292.90 504.19,293.04 504.55,293.14 504.91,293.20 505.27,293.25 505.64,293.28 506.00,293.30 506.00,293.30 506.39,270.67 506.77,253.99 507.16,241.70 507.55,232.64 507.94,225.96 508.32,221.04 508.71,217.41 509.10,214.74 509.49,212.77 509.88,211.31 510.26,210.24 510.65,209.45 511.04,208.87 511.42,208.44 511.81,208.13 512.20,207.90 512.59,207.72 512.97,207.60 513.36,207.50 513.75,207.44 514.14,207.39 514.52,207.35 514.91,207.32 515.30,207.30 515.63,217.92 515.96,230.49 516.29,242.34 516.62,252.80 516.95,261.68 517.27,269.02 517.60,274.99 517.93,279.75 518.26,283.50 518.59,286.42 518.92,288.67 519.25,290.39 519.58,291.70 519.91,292.68 520.24,293.41 520.57,293.95 520.90,294.35 521.23,294.64 521.55,294.86 521.88,295.01 522.21,295.12 522.54,295.20 522.87,295.26 523.20,295.30 523.20,295.30 523.59,276.94 523.98,262.91 524.36,252.19 524.75,244.00 525.14,237.74 525.53,232.96 525.91,229.31 526.30,226.52 526.69,224.39 527.08,222.76 527.46,221.51 527.85,220.56 528.24,219.83 528.62,219.28 529.01,218.85 529.40,218.53 529.79,218.28 530.17,218.09 530.56,217.95 530.95,217.84 531.34,217.75 531.73,217.69 532.11,217.64 532.50,217.60 532.83,227.38 533.17,238.94 533.50,249.80 533.83,259.35 534.17,267.43 534.50,274.09 534.83,279.47 535.17,283.76 535.50,287.12 535.83,289.72 536.17,291.72 536.50,293.24 536.83,294.39 537.17,295.24 537.50,295.88 537.83,296.35 538.17,296.69 538.50,296.94 538.83,297.13 539.17,297.26 539.50,297.35 539.83,297.42 540.17,297.47 540.50,297.50 540.50,297.50 540.89,282.33 541.27,270.40 541.66,261.03 542.05,253.66 542.44,247.87 542.83,243.31 543.21,239.73 543.60,236.92 543.99,234.71 544.38,232.97 544.76,231.60 545.15,230.53 545.54,229.68 545.92,229.02 546.31,228.50 546.70,228.09 547.09,227.77 547.47,227.51 547.86,227.31 548.25,227.16 548.64,227.03 549.02,226.94 549.41,226.86 549.80,226.80 550.13,235.55 550.47,245.89 550.80,255.61 551.13,264.16 551.47,271.39 551.80,277.35 552.13,282.17 552.47,286.00 552.80,289.01 553.13,291.34 553.47,293.13 553.80,294.49 554.13,295.51 554.47,296.28 554.80,296.85 555.13,297.27 555.47,297.58 555.80,297.80 556.13,297.97 556.47,298.08 556.80,298.17 557.13,298.23 557.47,298.27 557.80,298.30 557.80,298.30 558.19,286.18 558.57,276.44 558.96,268.60 559.35,262.29 559.74,257.22 560.12,253.14 560.51,249.86 560.90,247.22 561.29,245.10 561.67,243.39 562.06,242.02 562.45,240.91 562.84,240.02 563.22,239.31 563.61,238.73 564.00,238.27 564.39,237.90 564.77,237.60 565.16,237.36 565.55,237.16 565.94,237.01 566.32,236.88 566.71,236.78 567.10,236.70 567.42,244.21 567.75,253.13 568.07,261.56 568.40,269.03 568.72,275.39 569.05,280.67 569.37,284.97 569.70,288.43 570.02,291.16 570.35,293.29 570.67,294.95 571.00,296.22 571.32,297.18 571.65,297.91 571.97,298.46 572.30,298.87 572.62,299.17 572.95,299.39 573.27,299.56 573.60,299.68 573.92,299.76 574.25,299.82 574.57,299.87 574.90,299.90 574.90,299.90 575.29,290.12 575.67,282.10 576.06,275.53 576.45,270.15 576.84,265.73 577.22,262.11 577.61,259.14 578.00,256.71 578.39,254.71 578.77,253.08 579.16,251.74 579.55,250.64 579.94,249.74 580.32,249.00 580.71,248.39 581.10,247.90 581.49,247.49 581.88,247.16 582.26,246.88 582.65,246.66 583.04,246.48 583.42,246.32 583.81,246.20 584.20,246.10 584.52,252.59 584.85,260.30 585.17,267.58 585.50,274.03 585.82,279.52 586.15,284.09 586.47,287.81 586.80,290.79 587.12,293.15 587.45,294.99 587.77,296.42 588.10,297.52 588.42,298.35 588.75,298.98 589.07,299.46 589.40,299.81 589.73,300.07 590.05,300.26 590.38,300.40 590.70,300.51 591.02,300.58 591.35,300.63 591.67,300.67 592.00,300.70 592.00,300.70 592.39,293.22 592.77,287.00 593.16,281.81 593.55,277.49 593.94,273.89 594.33,270.89 594.71,268.39 595.10,266.31 595.49,264.58 595.88,263.14 596.26,261.94 596.65,260.94 597.04,260.10 597.42,259.41 597.81,258.83 598.20,258.35 598.59,257.94 598.97,257.61 599.36,257.33 599.75,257.10 600.14,256.91 600.52,256.75 600.91,256.61 601.30,256.50 601.64,262.37 601.98,269.27 602.32,275.72 602.67,281.35 603.01,286.08 603.35,289.96 603.69,293.06 604.03,295.51 604.38,297.41 604.72,298.88 605.06,299.99 605.40,300.83 605.74,301.45 606.08,301.92 606.42,302.26 606.77,302.51 607.11,302.69 607.45,302.82 607.79,302.91 608.13,302.98 608.48,303.03 608.82,303.06 609.16,303.08 609.50,303.10 609.50,303.10 609.89,297.43 610.27,292.64 610.66,288.60 611.05,285.19 611.44,282.30 611.83,279.87 612.21,277.82 612.60,276.08 612.99,274.62 613.38,273.38 613.76,272.34 614.15,271.45 614.54,270.71 614.92,270.08 615.31,269.55 615.70,269.10 616.09,268.72 616.47,268.40 616.86,268.14 617.25,267.91 617.64,267.72 618.02,267.55 618.41,267.42 618.80,267.30 619.12,271.59 619.44,276.69 619.76,281.52 620.08,285.82 620.40,289.49 620.72,292.55 621.05,295.06 621.37,297.08 621.69,298.68 622.01,299.94 622.33,300.92 622.65,301.67 622.97,302.25 623.29,302.69 623.61,303.02 623.93,303.26 624.25,303.45 624.58,303.59 624.90,303.69 625.22,303.76 625.54,303.81 625.86,303.85 626.18,303.88 626.50,303.90 626.50,303.90 626.89,300.19 627.27,297.01 627.66,294.30 628.05,291.99 628.44,290.01 628.83,288.32 629.21,286.88 629.60,285.65 629.99,284.59 630.38,283.69 630.76,282.92 631.15,282.27 631.54,281.71 631.92,281.23 632.31,280.82 632.70,280.47 633.09,280.17 633.47,279.91 633.86,279.70 634.25,279.51 634.64,279.35 635.02,279.22 635.41,279.10 635.80,279.00 636.13,282.15 636.47,285.86 636.80,289.36 637.13,292.43 637.47,295.03 637.80,297.17 638.13,298.90 638.47,300.28 638.80,301.36 639.13,302.20 639.47,302.84 639.80,303.33 640.13,303.70 640.47,303.97 640.80,304.18 641.13,304.33 641.47,304.44 641.80,304.52 642.13,304.58 642.47,304.62 642.80,304.65 643.13,304.67 643.47,304.69 643.80,304.70 643.80,304.70 644.19,302.88 644.57,301.31 644.96,299.95 645.35,298.78 645.74,297.77 646.12,296.90 646.51,296.15 646.90,295.50 647.29,294.94 647.67,294.46 648.06,294.04 648.45,293.68 648.84,293.37 649.22,293.10 649.61,292.87 650.00,292.67 650.39,292.50 650.77,292.35 651.16,292.22 651.55,292.11 651.94,292.02 652.32,291.93 652.71,291.86 653.10,291.80 653.40,293.23 653.69,294.95 653.99,296.61 654.28,298.12 654.58,299.44 654.88,300.56 655.17,301.50 655.47,302.27 655.76,302.90 656.06,303.41 656.35,303.82 656.65,304.14 656.95,304.40 657.24,304.59 657.54,304.75 657.83,304.87 658.13,304.96 658.42,305.03 658.72,305.08 659.02,305.12 659.31,305.15 659.61,305.17 659.90,305.19 660.20,305.20" fill="none" stroke="#555" stroke-width="0.9" stroke-linejoin="round" stroke-linecap="round" />
<polyline points="488.00,290.30 488.39,263.07 488.77,243.92 489.16,230.46 489.55,220.99 489.94,214.34 490.32,209.66 490.71,206.37 491.10,204.06 491.49,202.43 491.88,201.29 492.26,200.48 492.65,199.92 493.04,199.52 493.43,199.24 493.81,199.05 494.20,198.91 494.59,198.81 494.98,198.74 495.36,198.69 495.75,198.66 496.14,198.64 496.53,198.62 496.91,198.61 497.30,198.60" fill="none" stroke="#0f4a2a" stroke-width="1.2" stroke-linejoin="round" stroke-linecap="round" />
<polyline points="506.00,293.30 506.39,270.67 506.77,253.99 507.16,241.70 507.55,232.64 507.94,225.96 508.32,221.04 508.71,217.41 509.10,214.74 509.49,212.77 509.88,211.31 510.26,210.24 510.65,209.45 511.04,208.87 511.42,208.44 511.81,208.13 512.20,207.90 512.59,207.72 512.97,207.60 513.36,207.50 513.75,207.44 514.14,207.39 514.52,207.35 514.91,207.32 515.30,207.30" fill="none" stroke="#0f4a2a" stroke-width="1.2" stroke-linejoin="round" stroke-linecap="round" />
<polyline points="523.20,295.30 523.59,276.94 523.98,262.91 524.36,252.19 524.75,244.00 525.14,237.74 525.53,232.96 525.91,229.31 526.30,226.52 526.69,224.39 527.08,222.76 527.46,221.51 527.85,220.56 528.24,219.83 528.62,219.28 529.01,218.85 529.40,218.53 529.79,218.28 530.17,218.09 530.56,217.95 530.95,217.84 531.34,217.75 531.73,217.69 532.11,217.64 532.50,217.60" fill="none" stroke="#0f4a2a" stroke-width="1.2" stroke-linejoin="round" stroke-linecap="round" />
<polyline points="540.50,297.50 540.89,282.33 541.27,270.40 541.66,261.03 542.05,253.66 542.44,247.87 542.83,243.31 543.21,239.73 543.60,236.92 543.99,234.71 544.38,232.97 544.76,231.60 545.15,230.53 545.54,229.68 545.92,229.02 546.31,228.50 546.70,228.09 547.09,227.77 547.47,227.51 547.86,227.31 548.25,227.16 548.64,227.03 549.02,226.94 549.41,226.86 549.80,226.80" fill="none" stroke="#0f4a2a" stroke-width="1.2" stroke-linejoin="round" stroke-linecap="round" />
<polyline points="557.80,298.30 558.19,286.18 558.57,276.44 558.96,268.60 559.35,262.29 559.74,257.22 560.12,253.14 560.51,249.86 560.90,247.22 561.29,245.10 561.67,243.39 562.06,242.02 562.45,240.91 562.84,240.02 563.22,239.31 563.61,238.73 564.00,238.27 564.39,237.90 564.77,237.60 565.16,237.36 565.55,237.16 565.94,237.01 566.32,236.88 566.71,236.78 567.10,236.70" fill="none" stroke="#0f4a2a" stroke-width="1.2" stroke-linejoin="round" stroke-linecap="round" />
<polyline points="574.90,299.90 575.29,290.12 575.67,282.10 576.06,275.53 576.45,270.15 576.84,265.73 577.22,262.11 577.61,259.14 578.00,256.71 578.39,254.71 578.77,253.08 579.16,251.74 579.55,250.64 579.94,249.74 580.32,249.00 580.71,248.39 581.10,247.90 581.49,247.49 581.88,247.16 582.26,246.88 582.65,246.66 583.04,246.48 583.42,246.32 583.81,246.20 584.20,246.10" fill="none" stroke="#0f4a2a" stroke-width="1.2" stroke-linejoin="round" stroke-linecap="round" />
<polyline points="592.00,300.70 592.39,293.22 592.77,287.00 593.16,281.81 593.55,277.49 593.94,273.89 594.33,270.89 594.71,268.39 595.10,266.31 595.49,264.58 595.88,263.14 596.26,261.94 596.65,260.94 597.04,260.10 597.42,259.41 597.81,258.83 598.20,258.35 598.59,257.94 598.97,257.61 599.36,257.33 599.75,257.10 600.14,256.91 600.52,256.75 600.91,256.61 601.30,256.50" fill="none" stroke="#0f4a2a" stroke-width="1.2" stroke-linejoin="round" stroke-linecap="round" />
<polyline points="609.50,303.10 609.89,297.43 610.27,292.64 610.66,288.60 611.05,285.19 611.44,282.30 611.83,279.87 612.21,277.82 612.60,276.08 612.99,274.62 613.38,273.38 613.76,272.34 614.15,271.45 614.54,270.71 614.92,270.08 615.31,269.55 615.70,269.10 616.09,268.72 616.47,268.40 616.86,268.14 617.25,267.91 617.64,267.72 618.02,267.55 618.41,267.42 618.80,267.30" fill="none" stroke="#0f4a2a" stroke-width="1.2" stroke-linejoin="round" stroke-linecap="round" />
<polyline points="626.50,303.90 626.89,300.19 627.27,297.01 627.66,294.30 628.05,291.99 628.44,290.01 628.83,288.32 629.21,286.88 629.60,285.65 629.99,284.59 630.38,283.69 630.76,282.92 631.15,282.27 631.54,281.71 631.92,281.23 632.31,280.82 632.70,280.47 633.09,280.17 633.47,279.91 633.86,279.70 634.25,279.51 634.64,279.35 635.02,279.22 635.41,279.10 635.80,279.00" fill="none" stroke="#0f4a2a" stroke-width="1.2" stroke-linejoin="round" stroke-linecap="round" />
<polyline points="643.80,304.70 644.19,302.88 644.57,301.31 644.96,299.95 645.35,298.78 645.74,297.77 646.12,296.90 646.51,296.15 646.90,295.50 647.29,294.94 647.67,294.46 648.06,294.04 648.45,293.68 648.84,293.37 649.22,293.10 649.61,292.87 650.00,292.67 650.39,292.50 650.77,292.35 651.16,292.22 651.55,292.11 651.94,292.02 652.32,291.93 652.71,291.86 653.10,291.80" fill="none" stroke="#0f4a2a" stroke-width="1.2" stroke-linejoin="round" stroke-linecap="round" />
<polyline points="501.29,288.14 501.65,289.62 502.01,290.69 502.38,291.47 502.74,292.03 503.10,292.43 503.46,292.71 503.82,292.90 504.19,293.04 504.55,293.14 504.91,293.20 505.27,293.25 505.64,293.28 506.00,293.30" fill="none" stroke="#111" stroke-width="1.3" stroke-linejoin="round" stroke-linecap="round" />
<polyline points="518.92,288.67 519.25,290.39 519.58,291.70 519.91,292.68 520.24,293.41 520.57,293.95 520.90,294.35 521.23,294.64 521.55,294.86 521.88,295.01 522.21,295.12 522.54,295.20 522.87,295.26 523.20,295.30" fill="none" stroke="#111" stroke-width="1.3" stroke-linejoin="round" stroke-linecap="round" />
<polyline points="536.17,291.72 536.50,293.24 536.83,294.39 537.17,295.24 537.50,295.88 537.83,296.35 538.17,296.69 538.50,296.94 538.83,297.13 539.17,297.26 539.50,297.35 539.83,297.42 540.17,297.47 540.50,297.50" fill="none" stroke="#111" stroke-width="1.3" stroke-linejoin="round" stroke-linecap="round" />
<polyline points="553.47,293.13 553.80,294.49 554.13,295.51 554.47,296.28 554.80,296.85 555.13,297.27 555.47,297.58 555.80,297.80 556.13,297.97 556.47,298.08 556.80,298.17 557.13,298.23 557.47,298.27 557.80,298.30" fill="none" stroke="#111" stroke-width="1.3" stroke-linejoin="round" stroke-linecap="round" />
<polyline points="570.67,294.95 571.00,296.22 571.32,297.18 571.65,297.91 571.97,298.46 572.30,298.87 572.62,299.17 572.95,299.39 573.27,299.56 573.60,299.68 573.92,299.76 574.25,299.82 574.57,299.87 574.90,299.90" fill="none" stroke="#111" stroke-width="1.3" stroke-linejoin="round" stroke-linecap="round" />
<polyline points="587.77,296.42 588.10,297.52 588.42,298.35 588.75,298.98 589.07,299.46 589.40,299.81 589.73,300.07 590.05,300.26 590.38,300.40 590.70,300.51 591.02,300.58 591.35,300.63 591.67,300.67 592.00,300.70" fill="none" stroke="#111" stroke-width="1.3" stroke-linejoin="round" stroke-linecap="round" />
<polyline points="605.06,299.99 605.40,300.83 605.74,301.45 606.08,301.92 606.42,302.26 606.77,302.51 607.11,302.69 607.45,302.82 607.79,302.91 608.13,302.98 608.48,303.03 608.82,303.06 609.16,303.08 609.50,303.10" fill="none" stroke="#111" stroke-width="1.3" stroke-linejoin="round" stroke-linecap="round" />
<polyline points="622.33,300.92 622.65,301.67 622.97,302.25 623.29,302.69 623.61,303.02 623.93,303.26 624.25,303.45 624.58,303.59 624.90,303.69 625.22,303.76 625.54,303.81 625.86,303.85 626.18,303.88 626.50,303.90" fill="none" stroke="#111" stroke-width="1.3" stroke-linejoin="round" stroke-linecap="round" />
<polyline points="639.47,302.84 639.80,303.33 640.13,303.70 640.47,303.97 640.80,304.18 641.13,304.33 641.47,304.44 641.80,304.52 642.13,304.58 642.47,304.62 642.80,304.65 643.13,304.67 643.47,304.69 643.80,304.70" fill="none" stroke="#111" stroke-width="1.3" stroke-linejoin="round" stroke-linecap="round" />
<polyline points="656.35,303.82 656.65,304.14 656.95,304.40 657.24,304.59 657.54,304.75 657.83,304.87 658.13,304.96 658.42,305.03 658.72,305.08 659.02,305.12 659.31,305.15 659.61,305.17 659.90,305.19 660.20,305.20" fill="none" stroke="#111" stroke-width="1.3" stroke-linejoin="round" stroke-linecap="round" />
<line x1="484.60" y1="179.40" x2="664.70" y2="179.40" stroke="#999" stroke-width="1.2" />
<line x1="484.60" y1="193.90" x2="664.70" y2="193.90" stroke="#333" stroke-width="1.0" />
<line x1="664.70" y1="179.40" x2="664.70" y2="324.40" stroke="#555" stroke-width="1.0" />
<line x1="484.60" y1="324.40" x2="664.70" y2="324.40" stroke="#333" stroke-width="1.0" />
<line x1="484.60" y1="179.40" x2="484.60" y2="326.40" stroke="#333" stroke-width="1.0" />
<line x1="492.80" y1="189.80" x2="492.80" y2="193.90" stroke="#444" stroke-width="0.8" />
<text x="492.80" y="186.50" font-size="7.5" text-anchor="middle" fill="#333" font-weight="normal" >1.0</text>
<line x1="510.80" y1="189.80" x2="510.80" y2="193.90" stroke="#444" stroke-width="0.8" />
<text x="510.80" y="186.50" font-size="7.5" text-anchor="middle" fill="#333" font-weight="normal" >0.9</text>
<line x1="528.00" y1="189.80" x2="528.00" y2="193.90" stroke="#444" stroke-width="0.8" />
<text x="528.00" y="186.50" font-size="7.5" text-anchor="middle" fill="#333" font-weight="normal" >0.8</text>
<line x1="545.30" y1="189.80" x2="545.30" y2="193.90" stroke="#444" stroke-width="0.8" />
<text x="545.30" y="186.50" font-size="7.5" text-anchor="middle" fill="#333" font-weight="normal" >0.7</text>
<line x1="562.60" y1="189.80" x2="562.60" y2="193.90" stroke="#444" stroke-width="0.8" />
<text x="562.60" y="186.50" font-size="7.5" text-anchor="middle" fill="#333" font-weight="normal" >0.6</text>
<line x1="579.70" y1="189.80" x2="579.70" y2="193.90" stroke="#444" stroke-width="0.8" />
<text x="579.70" y="186.50" font-size="7.5" text-anchor="middle" fill="#333" font-weight="normal" >0.5</text>
<line x1="596.80" y1="189.80" x2="596.80" y2="193.90" stroke="#444" stroke-width="0.8" />
<text x="596.80" y="186.50" font-size="7.5" text-anchor="middle" fill="#333" font-weight="normal" >0.4</text>
<line x1="614.30" y1="189.80" x2="614.30" y2="193.90" stroke="#444" stroke-width="0.8" />
<text x="614.30" y="186.50" font-size="7.5" text-anchor="middle" fill="#333" font-weight="normal" >0.3</text>
<line x1="631.30" y1="189.80" x2="631.30" y2="193.90" stroke="#444" stroke-width="0.8" />
<text x="631.30" y="186.50" font-size="7.5" text-anchor="middle" fill="#333" font-weight="normal" >0.2</text>
<line x1="648.60" y1="189.80" x2="648.60" y2="193.90" stroke="#444" stroke-width="0.8" />
<text x="648.60" y="186.50" font-size="7.5" text-anchor="middle" fill="#333" font-weight="normal" >0.1</text>
<text x="667.00" y="184.80" font-size="7.5" text-anchor="start" fill="#333" font-weight="normal" >[H<tspan font-size="4.8" dy="1.3">2</tspan><tspan dy="-1.3">]</tspan></text>
<text x="667.00" y="195.40" font-size="7.5" text-anchor="start" fill="#333" font-weight="normal" >(%)</text>
<line x1="482.30" y1="324.40" x2="484.60" y2="324.40" stroke="#333" stroke-width="0.9" />
<text x="479.50" y="326.90" font-size="7.0" text-anchor="end" fill="#333" font-weight="normal" >770</text>
<line x1="482.30" y1="309.90" x2="484.60" y2="309.90" stroke="#333" stroke-width="0.9" />
<text x="479.50" y="312.40" font-size="7.0" text-anchor="end" fill="#333" font-weight="normal" >780</text>
<line x1="482.30" y1="295.40" x2="484.60" y2="295.40" stroke="#333" stroke-width="0.9" />
<text x="479.50" y="297.90" font-size="7.0" text-anchor="end" fill="#333" font-weight="normal" >790</text>
<line x1="482.30" y1="280.90" x2="484.60" y2="280.90" stroke="#333" stroke-width="0.9" />
<text x="479.50" y="283.40" font-size="7.0" text-anchor="end" fill="#333" font-weight="normal" >800</text>
<line x1="482.30" y1="266.40" x2="484.60" y2="266.40" stroke="#333" stroke-width="0.9" />
<text x="479.50" y="268.90" font-size="7.0" text-anchor="end" fill="#333" font-weight="normal" >810</text>
<line x1="482.30" y1="251.90" x2="484.60" y2="251.90" stroke="#333" stroke-width="0.9" />
<text x="479.50" y="254.40" font-size="7.0" text-anchor="end" fill="#333" font-weight="normal" >820</text>
<line x1="482.30" y1="237.40" x2="484.60" y2="237.40" stroke="#333" stroke-width="0.9" />
<text x="479.50" y="239.90" font-size="7.0" text-anchor="end" fill="#333" font-weight="normal" >830</text>
<line x1="482.30" y1="222.90" x2="484.60" y2="222.90" stroke="#333" stroke-width="0.9" />
<text x="479.50" y="225.40" font-size="7.0" text-anchor="end" fill="#333" font-weight="normal" >840</text>
<line x1="482.30" y1="208.40" x2="484.60" y2="208.40" stroke="#333" stroke-width="0.9" />
<text x="479.50" y="210.90" font-size="7.0" text-anchor="end" fill="#333" font-weight="normal" >850</text>
<line x1="482.30" y1="193.90" x2="484.60" y2="193.90" stroke="#333" stroke-width="0.9" />
<text x="479.50" y="196.40" font-size="7.0" text-anchor="end" fill="#333" font-weight="normal" >860</text>
<line x1="483.60" y1="317.15" x2="484.60" y2="317.15" stroke="#333" stroke-width="0.8" />
<line x1="483.60" y1="302.65" x2="484.60" y2="302.65" stroke="#333" stroke-width="0.8" />
<line x1="483.60" y1="288.15" x2="484.60" y2="288.15" stroke="#333" stroke-width="0.8" />
<line x1="483.60" y1="273.65" x2="484.60" y2="273.65" stroke="#333" stroke-width="0.8" />
<line x1="483.60" y1="259.15" x2="484.60" y2="259.15" stroke="#333" stroke-width="0.8" />
<line x1="483.60" y1="244.65" x2="484.60" y2="244.65" stroke="#333" stroke-width="0.8" />
<line x1="483.60" y1="230.15" x2="484.60" y2="230.15" stroke="#333" stroke-width="0.8" />
<line x1="483.60" y1="215.65" x2="484.60" y2="215.65" stroke="#333" stroke-width="0.8" />
<line x1="483.60" y1="201.15" x2="484.60" y2="201.15" stroke="#333" stroke-width="0.8" />
<line x1="486.80" y1="324.40" x2="486.80" y2="326.70" stroke="#333" stroke-width="0.9" />
<text x="487.20" y="336.40" font-size="7.1" text-anchor="middle" fill="#333" font-weight="normal" >0</text>
<line x1="514.12" y1="324.40" x2="514.12" y2="326.70" stroke="#333" stroke-width="0.9" />
<text x="514.52" y="336.40" font-size="7.1" text-anchor="middle" fill="#333" font-weight="normal" >100</text>
<line x1="541.44" y1="324.40" x2="541.44" y2="326.70" stroke="#333" stroke-width="0.9" />
<text x="541.84" y="336.40" font-size="7.1" text-anchor="middle" fill="#333" font-weight="normal" >200</text>
<line x1="568.76" y1="324.40" x2="568.76" y2="326.70" stroke="#333" stroke-width="0.9" />
<text x="569.16" y="336.40" font-size="7.1" text-anchor="middle" fill="#333" font-weight="normal" >300</text>
<line x1="596.08" y1="324.40" x2="596.08" y2="326.70" stroke="#333" stroke-width="0.9" />
<text x="596.48" y="336.40" font-size="7.1" text-anchor="middle" fill="#333" font-weight="normal" >400</text>
<line x1="623.40" y1="324.40" x2="623.40" y2="326.70" stroke="#333" stroke-width="0.9" />
<text x="623.80" y="336.40" font-size="7.1" text-anchor="middle" fill="#333" font-weight="normal" >500</text>
<line x1="650.72" y1="324.40" x2="650.72" y2="326.70" stroke="#333" stroke-width="0.9" />
<text x="651.12" y="336.40" font-size="7.1" text-anchor="middle" fill="#333" font-weight="normal" >600</text>
<line x1="500.46" y1="324.40" x2="500.46" y2="325.80" stroke="#333" stroke-width="0.8" />
<line x1="527.78" y1="324.40" x2="527.78" y2="325.80" stroke="#333" stroke-width="0.8" />
<line x1="555.10" y1="324.40" x2="555.10" y2="325.80" stroke="#333" stroke-width="0.8" />
<line x1="582.42" y1="324.40" x2="582.42" y2="325.80" stroke="#333" stroke-width="0.8" />
<line x1="609.74" y1="324.40" x2="609.74" y2="325.80" stroke="#333" stroke-width="0.8" />
<line x1="637.06" y1="324.40" x2="637.06" y2="325.80" stroke="#333" stroke-width="0.8" />
<text x="573.50" y="344.60" font-size="7.3" text-anchor="middle" fill="#333" font-weight="normal" >Time (sec)</text>
<text x="0.00" y="0.00" font-size="7.5" text-anchor="middle" fill="#333" font-weight="normal" transform="translate(459.3,248.6) rotate(-90)">Resistance (ohm)</text>
<text x="489.60" y="317.20" font-size="6.9" text-anchor="start" fill="#333" font-weight="normal" >H<tspan font-size="4.5" dy="1.3">2</tspan><tspan dy="-1.3"> Air</tspan></text>
<text x="619.60" y="202.80" font-size="5.9" text-anchor="middle" fill="#333" font-weight="normal" >Quasi-single-crystalline PdNWs</text>
<path d="M590,213.2 L620,212.8 Q633,212.6 637,210.8 Q640,209.8 652.5,209.8" fill="none" stroke="#1e1e1e" stroke-width="3.8" stroke-linecap="round"/>
<text x="4.20" y="362.80" font-size="15.8" text-anchor="start" fill="#231815" font-weight="bold" >g</text>
<polyline points="50.54,375.52 67.28,394.80 84.02,413.47 100.76,421.48 117.50,426.52 134.24,432.15 150.98,436.31 167.72,437.49 184.46,437.49 201.20,437.49" fill="none" stroke="#f06060" stroke-width="0.7" stroke-linejoin="round" stroke-linecap="round" />
<polyline points="50.54,460.32 67.28,472.72 84.02,472.72 100.76,474.61 117.50,474.43 134.24,476.04 150.98,477.22 167.72,476.04 184.46,476.04 201.20,475.21" fill="none" stroke="#555" stroke-width="0.7" stroke-linejoin="round" stroke-linecap="round" />
<circle cx="50.54" cy="375.52" r="1.90" fill="#e8393a" />
<circle cx="67.28" cy="394.80" r="1.90" fill="#e8393a" />
<circle cx="84.02" cy="413.47" r="1.90" fill="#e8393a" />
<circle cx="100.76" cy="421.48" r="1.90" fill="#e8393a" />
<circle cx="117.50" cy="426.52" r="1.90" fill="#e8393a" />
<circle cx="134.24" cy="432.15" r="1.90" fill="#e8393a" />
<circle cx="150.98" cy="436.31" r="1.90" fill="#e8393a" />
<circle cx="167.72" cy="437.49" r="1.90" fill="#e8393a" />
<circle cx="184.46" cy="437.49" r="1.90" fill="#e8393a" />
<circle cx="201.20" cy="437.49" r="1.90" fill="#e8393a" />
<rect x="49.04" y="458.82" width="3.00" height="3.00" fill="#3a3a3a" />
<rect x="65.78" y="471.22" width="3.00" height="3.00" fill="#3a3a3a" />
<rect x="82.52" y="471.22" width="3.00" height="3.00" fill="#3a3a3a" />
<rect x="99.26" y="473.11" width="3.00" height="3.00" fill="#3a3a3a" />
<rect x="116.00" y="472.93" width="3.00" height="3.00" fill="#3a3a3a" />
<rect x="132.74" y="474.54" width="3.00" height="3.00" fill="#3a3a3a" />
<rect x="149.48" y="475.72" width="3.00" height="3.00" fill="#3a3a3a" />
<rect x="166.22" y="474.54" width="3.00" height="3.00" fill="#3a3a3a" />
<rect x="182.96" y="474.54" width="3.00" height="3.00" fill="#3a3a3a" />
<rect x="199.70" y="473.71" width="3.00" height="3.00" fill="#3a3a3a" />
<rect x="33.80" y="356.30" width="184.40" height="148.20" fill="none" stroke="#333" stroke-width="1.1"/>
<line x1="31.40" y1="504.50" x2="33.80" y2="504.50" stroke="#333" stroke-width="0.9" />
<text x="28.80" y="507.10" font-size="7.2" text-anchor="end" fill="#333" font-weight="normal" >0</text>
<line x1="31.40" y1="474.85" x2="33.80" y2="474.85" stroke="#333" stroke-width="0.9" />
<text x="28.80" y="477.45" font-size="7.2" text-anchor="end" fill="#333" font-weight="normal" >5</text>
<line x1="31.40" y1="445.20" x2="33.80" y2="445.20" stroke="#333" stroke-width="0.9" />
<text x="28.80" y="447.80" font-size="7.2" text-anchor="end" fill="#333" font-weight="normal" >10</text>
<line x1="31.40" y1="415.55" x2="33.80" y2="415.55" stroke="#333" stroke-width="0.9" />
<text x="28.80" y="418.15" font-size="7.2" text-anchor="end" fill="#333" font-weight="normal" >15</text>
<line x1="31.40" y1="385.90" x2="33.80" y2="385.90" stroke="#333" stroke-width="0.9" />
<text x="28.80" y="388.50" font-size="7.2" text-anchor="end" fill="#333" font-weight="normal" >20</text>
<line x1="31.40" y1="356.25" x2="33.80" y2="356.25" stroke="#333" stroke-width="0.9" />
<text x="28.80" y="358.85" font-size="7.2" text-anchor="end" fill="#333" font-weight="normal" >25</text>
<line x1="32.40" y1="489.68" x2="33.80" y2="489.68" stroke="#333" stroke-width="0.8" />
<line x1="32.40" y1="460.02" x2="33.80" y2="460.02" stroke="#333" stroke-width="0.8" />
<line x1="32.40" y1="430.38" x2="33.80" y2="430.38" stroke="#333" stroke-width="0.8" />
<line x1="32.40" y1="400.73" x2="33.80" y2="400.73" stroke="#333" stroke-width="0.8" />
<line x1="32.40" y1="371.08" x2="33.80" y2="371.08" stroke="#333" stroke-width="0.8" />
<line x1="33.80" y1="504.50" x2="33.80" y2="506.90" stroke="#333" stroke-width="0.9" />
<text x="33.80" y="515.60" font-size="7.2" text-anchor="middle" fill="#333" font-weight="normal" >0.0</text>
<line x1="67.28" y1="504.50" x2="67.28" y2="506.90" stroke="#333" stroke-width="0.9" />
<text x="67.28" y="515.60" font-size="7.2" text-anchor="middle" fill="#333" font-weight="normal" >0.2</text>
<line x1="100.76" y1="504.50" x2="100.76" y2="506.90" stroke="#333" stroke-width="0.9" />
<text x="100.76" y="515.60" font-size="7.2" text-anchor="middle" fill="#333" font-weight="normal" >0.4</text>
<line x1="134.24" y1="504.50" x2="134.24" y2="506.90" stroke="#333" stroke-width="0.9" />
<text x="134.24" y="515.60" font-size="7.2" text-anchor="middle" fill="#333" font-weight="normal" >0.6</text>
<line x1="167.72" y1="504.50" x2="167.72" y2="506.90" stroke="#333" stroke-width="0.9" />
<text x="167.72" y="515.60" font-size="7.2" text-anchor="middle" fill="#333" font-weight="normal" >0.8</text>
<line x1="201.20" y1="504.50" x2="201.20" y2="506.90" stroke="#333" stroke-width="0.9" />
<text x="201.20" y="515.60" font-size="7.2" text-anchor="middle" fill="#333" font-weight="normal" >1.0</text>
<line x1="50.54" y1="504.50" x2="50.54" y2="505.90" stroke="#333" stroke-width="0.8" />
<line x1="84.02" y1="504.50" x2="84.02" y2="505.90" stroke="#333" stroke-width="0.8" />
<line x1="117.50" y1="504.50" x2="117.50" y2="505.90" stroke="#333" stroke-width="0.8" />
<line x1="150.98" y1="504.50" x2="150.98" y2="505.90" stroke="#333" stroke-width="0.8" />
<line x1="184.46" y1="504.50" x2="184.46" y2="505.90" stroke="#333" stroke-width="0.8" />
<text x="125.60" y="527.00" font-size="7.5" text-anchor="middle" fill="#333" font-weight="normal" >H<tspan font-size="4.6" dy="1.4">2</tspan><tspan dy="-1.4"> concentration (%)</tspan></text>
<text x="0.00" y="0.00" font-size="7.45" text-anchor="middle" fill="#333" font-weight="normal" transform="translate(9.8,430.5) rotate(-90)">Response time (s)</text>
<line x1="85.60" y1="363.60" x2="100.70" y2="363.60" stroke="#666" stroke-width="0.8" />
<rect x="91.70" y="362.10" width="3.00" height="3.00" fill="#3a3a3a" />
<line x1="85.60" y1="374.70" x2="100.70" y2="374.70" stroke="#f06060" stroke-width="0.8" />
<circle cx="93.20" cy="374.70" r="1.90" fill="#e8393a" />
<text x="104.60" y="366.20" font-size="7.6" text-anchor="start" fill="#333" font-weight="normal" >Polycrystalline PdNWs</text>
<text x="104.60" y="377.30" font-size="7.6" text-anchor="start" fill="#333" font-weight="normal" >Quasi-single-crystalline PdNWs</text>
<text x="230.30" y="363.80" font-size="15.6" text-anchor="start" fill="#231815" font-weight="bold" >h</text>
<polyline points="284.75,388.17 301.50,401.18 318.25,407.09 335.00,410.04 351.75,420.09 368.50,418.91 385.25,420.68 402.00,420.09 418.75,420.68 435.50,426.59" fill="none" stroke="#f06060" stroke-width="0.7" stroke-linejoin="round" stroke-linecap="round" />
<polyline points="284.75,445.50 301.50,446.68 318.25,450.82 335.00,443.73 351.75,448.46 368.50,445.50 385.25,437.82 402.00,436.04 418.75,434.86 435.50,441.95" fill="none" stroke="#555" stroke-width="0.7" stroke-linejoin="round" stroke-linecap="round" />
<circle cx="284.75" cy="388.17" r="1.90" fill="#e8393a" />
<circle cx="301.50" cy="401.18" r="1.90" fill="#e8393a" />
<circle cx="318.25" cy="407.09" r="1.90" fill="#e8393a" />
<circle cx="335.00" cy="410.04" r="1.90" fill="#e8393a" />
<circle cx="351.75" cy="420.09" r="1.90" fill="#e8393a" />
<circle cx="368.50" cy="418.91" r="1.90" fill="#e8393a" />
<circle cx="385.25" cy="420.68" r="1.90" fill="#e8393a" />
<circle cx="402.00" cy="420.09" r="1.90" fill="#e8393a" />
<circle cx="418.75" cy="420.68" r="1.90" fill="#e8393a" />
<circle cx="435.50" cy="426.59" r="1.90" fill="#e8393a" />
<rect x="283.25" y="444.00" width="3.00" height="3.00" fill="#111" />
<rect x="300.00" y="445.18" width="3.00" height="3.00" fill="#111" />
<rect x="316.75" y="449.32" width="3.00" height="3.00" fill="#111" />
<rect x="333.50" y="442.23" width="3.00" height="3.00" fill="#111" />
<rect x="350.25" y="446.96" width="3.00" height="3.00" fill="#111" />
<rect x="367.00" y="444.00" width="3.00" height="3.00" fill="#111" />
<rect x="383.75" y="436.32" width="3.00" height="3.00" fill="#111" />
<rect x="400.50" y="434.54" width="3.00" height="3.00" fill="#111" />
<rect x="417.25" y="433.36" width="3.00" height="3.00" fill="#111" />
<rect x="434.00" y="440.45" width="3.00" height="3.00" fill="#111" />
<rect x="268.00" y="356.90" width="184.30" height="147.70" fill="none" stroke="#333" stroke-width="1.1"/>
<line x1="265.60" y1="504.60" x2="268.00" y2="504.60" stroke="#333" stroke-width="0.9" />
<text x="263.00" y="507.20" font-size="7.2" text-anchor="end" fill="#333" font-weight="normal" >0</text>
<line x1="265.60" y1="475.05" x2="268.00" y2="475.05" stroke="#333" stroke-width="0.9" />
<text x="263.00" y="477.65" font-size="7.2" text-anchor="end" fill="#333" font-weight="normal" >5</text>
<line x1="265.60" y1="445.50" x2="268.00" y2="445.50" stroke="#333" stroke-width="0.9" />
<text x="263.00" y="448.10" font-size="7.2" text-anchor="end" fill="#333" font-weight="normal" >10</text>
<line x1="265.60" y1="415.95" x2="268.00" y2="415.95" stroke="#333" stroke-width="0.9" />
<text x="263.00" y="418.55" font-size="7.2" text-anchor="end" fill="#333" font-weight="normal" >15</text>
<line x1="265.60" y1="386.40" x2="268.00" y2="386.40" stroke="#333" stroke-width="0.9" />
<text x="263.00" y="389.00" font-size="7.2" text-anchor="end" fill="#333" font-weight="normal" >20</text>
<line x1="265.60" y1="356.85" x2="268.00" y2="356.85" stroke="#333" stroke-width="0.9" />
<text x="263.00" y="359.45" font-size="7.2" text-anchor="end" fill="#333" font-weight="normal" >25</text>
<line x1="266.60" y1="489.83" x2="268.00" y2="489.83" stroke="#333" stroke-width="0.8" />
<line x1="266.60" y1="460.28" x2="268.00" y2="460.28" stroke="#333" stroke-width="0.8" />
<line x1="266.60" y1="430.73" x2="268.00" y2="430.73" stroke="#333" stroke-width="0.8" />
<line x1="266.60" y1="401.18" x2="268.00" y2="401.18" stroke="#333" stroke-width="0.8" />
<line x1="266.60" y1="371.62" x2="268.00" y2="371.62" stroke="#333" stroke-width="0.8" />
<line x1="268.00" y1="504.60" x2="268.00" y2="507.00" stroke="#333" stroke-width="0.9" />
<text x="268.00" y="515.60" font-size="7.2" text-anchor="middle" fill="#333" font-weight="normal" >0.0</text>
<line x1="301.50" y1="504.60" x2="301.50" y2="507.00" stroke="#333" stroke-width="0.9" />
<text x="301.50" y="515.60" font-size="7.2" text-anchor="middle" fill="#333" font-weight="normal" >0.2</text>
<line x1="335.00" y1="504.60" x2="335.00" y2="507.00" stroke="#333" stroke-width="0.9" />
<text x="335.00" y="515.60" font-size="7.2" text-anchor="middle" fill="#333" font-weight="normal" >0.4</text>
<line x1="368.50" y1="504.60" x2="368.50" y2="507.00" stroke="#333" stroke-width="0.9" />
<text x="368.50" y="515.60" font-size="7.2" text-anchor="middle" fill="#333" font-weight="normal" >0.6</text>
<line x1="402.00" y1="504.60" x2="402.00" y2="507.00" stroke="#333" stroke-width="0.9" />
<text x="402.00" y="515.60" font-size="7.2" text-anchor="middle" fill="#333" font-weight="normal" >0.8</text>
<line x1="435.50" y1="504.60" x2="435.50" y2="507.00" stroke="#333" stroke-width="0.9" />
<text x="435.50" y="515.60" font-size="7.2" text-anchor="middle" fill="#333" font-weight="normal" >1.0</text>
<line x1="284.75" y1="504.60" x2="284.75" y2="506.00" stroke="#333" stroke-width="0.8" />
<line x1="318.25" y1="504.60" x2="318.25" y2="506.00" stroke="#333" stroke-width="0.8" />
<line x1="351.75" y1="504.60" x2="351.75" y2="506.00" stroke="#333" stroke-width="0.8" />
<line x1="385.25" y1="504.60" x2="385.25" y2="506.00" stroke="#333" stroke-width="0.8" />
<line x1="418.75" y1="504.60" x2="418.75" y2="506.00" stroke="#333" stroke-width="0.8" />
<text x="361.00" y="527.00" font-size="7.5" text-anchor="middle" fill="#333" font-weight="normal" >H<tspan font-size="4.6" dy="1.4">2</tspan><tspan dy="-1.4"> concentration (%)</tspan></text>
<text x="0.00" y="0.00" font-size="7.6" text-anchor="middle" fill="#333" font-weight="normal" transform="translate(246.8,430.7) rotate(-90)">Recovery time (s)</text>
<line x1="320.70" y1="363.90" x2="335.80" y2="363.90" stroke="#666" stroke-width="0.8" />
<rect x="326.80" y="362.40" width="3.00" height="3.00" fill="#111" />
<line x1="320.70" y1="375.30" x2="335.80" y2="375.30" stroke="#f06060" stroke-width="0.8" />
<circle cx="328.30" cy="375.30" r="1.90" fill="#e8393a" />
<text x="340.60" y="366.50" font-size="7.6" text-anchor="start" fill="#333" font-weight="normal" >Polycrystalline PdNWs</text>
<text x="340.60" y="377.90" font-size="7.6" text-anchor="start" fill="#333" font-weight="normal" >Quasi-single-crystalline PdNWs</text>
<text x="466.20" y="363.60" font-size="15.6" text-anchor="start" fill="#231815" font-weight="bold" >i</text>
<polyline points="511.34,486.50 516.45,486.50 520.76,486.50 524.56,486.50 527.99,486.50 531.14,486.50 534.08,486.50 536.84,486.50 539.45,486.50 560.51,485.80 576.67,485.56 590.30,485.32 602.30,484.86 613.16,484.62 623.13,484.15 632.42,483.92 641.15,483.68 649.40,483.44" fill="none" stroke="#3db04a" stroke-width="1.6" stroke-linejoin="round" stroke-linecap="round" />
<polyline points="511.34,485.32 516.45,484.86 520.76,484.15 524.56,483.44 527.99,482.50 531.14,481.80 534.08,480.86 536.84,479.92 539.45,477.57 560.51,469.58 576.67,464.18 590.30,460.18 602.30,456.42 613.16,454.31 623.13,451.72 632.42,451.25 641.15,450.78 649.40,448.43" fill="none" stroke="#e03a3a" stroke-width="1.1" stroke-linejoin="round" stroke-linecap="round" />
<polyline points="511.34,483.68 516.45,479.45 520.76,474.75 524.56,470.52 527.99,468.17 531.14,465.82 534.08,464.18 536.84,461.82 539.45,458.77 560.51,443.02 576.67,432.45 590.30,423.05 602.30,414.82 613.16,407.77 623.13,401.90 632.42,394.85 641.15,388.27 649.40,386.62" fill="none" stroke="#222" stroke-width="1.0" stroke-linejoin="round" stroke-linecap="round" />
<rect x="509.84" y="482.18" width="3.00" height="3.00" fill="#555" />
<rect x="514.95" y="477.95" width="3.00" height="3.00" fill="#555" />
<rect x="519.26" y="473.25" width="3.00" height="3.00" fill="#555" />
<rect x="523.06" y="469.02" width="3.00" height="3.00" fill="#555" />
<rect x="526.49" y="466.67" width="3.00" height="3.00" fill="#555" />
<rect x="529.64" y="464.32" width="3.00" height="3.00" fill="#555" />
<rect x="532.58" y="462.68" width="3.00" height="3.00" fill="#555" />
<rect x="535.34" y="460.32" width="3.00" height="3.00" fill="#555" />
<rect x="537.95" y="457.27" width="3.00" height="3.00" fill="#555" />
<rect x="559.01" y="441.52" width="3.00" height="3.00" fill="#555" />
<rect x="575.17" y="430.95" width="3.00" height="3.00" fill="#555" />
<rect x="588.80" y="421.55" width="3.00" height="3.00" fill="#555" />
<rect x="600.80" y="413.32" width="3.00" height="3.00" fill="#555" />
<rect x="611.66" y="406.27" width="3.00" height="3.00" fill="#555" />
<rect x="621.63" y="400.40" width="3.00" height="3.00" fill="#555" />
<rect x="630.92" y="393.35" width="3.00" height="3.00" fill="#555" />
<rect x="639.65" y="386.77" width="3.00" height="3.00" fill="#555" />
<rect x="647.90" y="385.12" width="3.00" height="3.00" fill="#555" />
<circle cx="511.34" cy="485.32" r="1.80" fill="#e03a3a" />
<circle cx="516.45" cy="484.86" r="1.80" fill="#e03a3a" />
<circle cx="520.76" cy="484.15" r="1.80" fill="#e03a3a" />
<circle cx="524.56" cy="483.44" r="1.80" fill="#e03a3a" />
<circle cx="527.99" cy="482.50" r="1.80" fill="#e03a3a" />
<circle cx="531.14" cy="481.80" r="1.80" fill="#e03a3a" />
<circle cx="534.08" cy="480.86" r="1.80" fill="#e03a3a" />
<circle cx="536.84" cy="479.92" r="1.80" fill="#e03a3a" />
<circle cx="539.45" cy="477.57" r="1.80" fill="#e03a3a" />
<circle cx="560.51" cy="469.58" r="1.80" fill="#e03a3a" />
<circle cx="576.67" cy="464.18" r="1.80" fill="#e03a3a" />
<circle cx="590.30" cy="460.18" r="1.80" fill="#e03a3a" />
<circle cx="602.30" cy="456.42" r="1.80" fill="#e03a3a" />
<circle cx="613.16" cy="454.31" r="1.80" fill="#e03a3a" />
<circle cx="623.13" cy="451.72" r="1.80" fill="#e03a3a" />
<circle cx="632.42" cy="451.25" r="1.80" fill="#e03a3a" />
<circle cx="641.15" cy="450.78" r="1.80" fill="#e03a3a" />
<circle cx="649.40" cy="448.43" r="1.80" fill="#e03a3a" />
<polygon points="509.44,487.90 513.24,487.90 511.34,484.60" fill="#2a66c0" />
<polygon points="514.55,487.90 518.35,487.90 516.45,484.60" fill="#2a66c0" />
<polygon points="518.86,487.90 522.66,487.90 520.76,484.60" fill="#2a66c0" />
<polygon points="522.66,487.90 526.46,487.90 524.56,484.60" fill="#2a66c0" />
<polygon points="526.09,487.90 529.89,487.90 527.99,484.60" fill="#2a66c0" />
<polygon points="529.24,487.90 533.04,487.90 531.14,484.60" fill="#2a66c0" />
<polygon points="532.18,487.90 535.98,487.90 534.08,484.60" fill="#2a66c0" />
<polygon points="534.94,487.90 538.74,487.90 536.84,484.60" fill="#2a66c0" />
<polygon points="537.55,487.90 541.35,487.90 539.45,484.60" fill="#2a66c0" />
<polygon points="558.61,487.19 562.41,487.19 560.51,483.90" fill="#2a66c0" />
<polygon points="574.77,486.96 578.57,486.96 576.67,483.66" fill="#2a66c0" />
<polygon points="588.40,486.72 592.20,486.72 590.30,483.43" fill="#2a66c0" />
<polygon points="600.40,486.25 604.20,486.25 602.30,482.96" fill="#2a66c0" />
<polygon points="611.26,486.02 615.06,486.02 613.16,482.72" fill="#2a66c0" />
<polygon points="621.23,485.55 625.03,485.55 623.13,482.25" fill="#2a66c0" />
<polygon points="630.52,485.31 634.32,485.31 632.42,482.02" fill="#2a66c0" />
<polygon points="639.25,485.08 643.05,485.08 641.15,481.78" fill="#2a66c0" />
<polygon points="647.50,484.84 651.30,484.84 649.40,481.55" fill="#2a66c0" />
<rect x="488.60" y="356.90" width="176.90" height="141.70" fill="none" stroke="#333" stroke-width="1.1"/>
<line x1="486.20" y1="486.50" x2="488.60" y2="486.50" stroke="#333" stroke-width="0.9" />
<text x="483.10" y="489.10" font-size="7.2" text-anchor="end" fill="#333" font-weight="normal" >0</text>
<line x1="486.20" y1="463.00" x2="488.60" y2="463.00" stroke="#333" stroke-width="0.9" />
<text x="483.10" y="465.60" font-size="7.2" text-anchor="end" fill="#333" font-weight="normal" >1</text>
<line x1="486.20" y1="439.50" x2="488.60" y2="439.50" stroke="#333" stroke-width="0.9" />
<text x="483.10" y="442.10" font-size="7.2" text-anchor="end" fill="#333" font-weight="normal" >2</text>
<line x1="486.20" y1="416.00" x2="488.60" y2="416.00" stroke="#333" stroke-width="0.9" />
<text x="483.10" y="418.60" font-size="7.2" text-anchor="end" fill="#333" font-weight="normal" >3</text>
<line x1="486.20" y1="392.50" x2="488.60" y2="392.50" stroke="#333" stroke-width="0.9" />
<text x="483.10" y="395.10" font-size="7.2" text-anchor="end" fill="#333" font-weight="normal" >4</text>
<line x1="486.20" y1="369.00" x2="488.60" y2="369.00" stroke="#333" stroke-width="0.9" />
<text x="483.10" y="371.60" font-size="7.2" text-anchor="end" fill="#333" font-weight="normal" >5</text>
<line x1="487.20" y1="498.25" x2="488.60" y2="498.25" stroke="#333" stroke-width="0.8" />
<line x1="487.20" y1="474.75" x2="488.60" y2="474.75" stroke="#333" stroke-width="0.8" />
<line x1="487.20" y1="451.25" x2="488.60" y2="451.25" stroke="#333" stroke-width="0.8" />
<line x1="487.20" y1="427.75" x2="488.60" y2="427.75" stroke="#333" stroke-width="0.8" />
<line x1="487.20" y1="404.25" x2="488.60" y2="404.25" stroke="#333" stroke-width="0.8" />
<line x1="487.20" y1="380.75" x2="488.60" y2="380.75" stroke="#333" stroke-width="0.8" />
<line x1="488.60" y1="498.60" x2="488.60" y2="501.00" stroke="#333" stroke-width="0.9" />
<text x="488.60" y="510.00" font-size="7.2" text-anchor="middle" fill="#333" font-weight="normal" >0.0</text>
<line x1="520.76" y1="498.60" x2="520.76" y2="501.00" stroke="#333" stroke-width="0.9" />
<text x="520.76" y="510.00" font-size="7.2" text-anchor="middle" fill="#333" font-weight="normal" >0.2</text>
<line x1="552.92" y1="498.60" x2="552.92" y2="501.00" stroke="#333" stroke-width="0.9" />
<text x="552.92" y="510.00" font-size="7.2" text-anchor="middle" fill="#333" font-weight="normal" >0.4</text>
<line x1="585.08" y1="498.60" x2="585.08" y2="501.00" stroke="#333" stroke-width="0.9" />
<text x="585.08" y="510.00" font-size="7.2" text-anchor="middle" fill="#333" font-weight="normal" >0.6</text>
<line x1="617.24" y1="498.60" x2="617.24" y2="501.00" stroke="#333" stroke-width="0.9" />
<text x="617.24" y="510.00" font-size="7.2" text-anchor="middle" fill="#333" font-weight="normal" >0.8</text>
<line x1="649.40" y1="498.60" x2="649.40" y2="501.00" stroke="#333" stroke-width="0.9" />
<text x="649.40" y="510.00" font-size="7.2" text-anchor="middle" fill="#333" font-weight="normal" >1.0</text>
<line x1="504.68" y1="498.60" x2="504.68" y2="500.00" stroke="#333" stroke-width="0.8" />
<line x1="536.84" y1="498.60" x2="536.84" y2="500.00" stroke="#333" stroke-width="0.8" />
<line x1="569.00" y1="498.60" x2="569.00" y2="500.00" stroke="#333" stroke-width="0.8" />
<line x1="601.16" y1="498.60" x2="601.16" y2="500.00" stroke="#333" stroke-width="0.8" />
<line x1="633.32" y1="498.60" x2="633.32" y2="500.00" stroke="#333" stroke-width="0.8" />
<line x1="665.48" y1="498.60" x2="665.48" y2="500.00" stroke="#333" stroke-width="0.8" />
<text x="576.90" y="527.30" font-size="7.5" text-anchor="middle" fill="#333" font-weight="normal" >[H<tspan font-size="4.6" dy="1.4">2</tspan><tspan dy="-1.4">]</tspan><tspan font-size="4.6" dy="-2.6">0.5</tspan><tspan dy="2.6"> concentration (%)</tspan></text>
<text x="0.00" y="0.00" font-size="7.6" text-anchor="middle" fill="#333" font-weight="normal" transform="translate(472.6,427.4) rotate(-90)">Response (%)</text>
<line x1="491.00" y1="363.60" x2="512.80" y2="363.60" stroke="#222" stroke-width="1.0" />
<rect x="500.40" y="362.10" width="3.00" height="3.00" fill="#555" />
<line x1="491.00" y1="374.70" x2="512.80" y2="374.70" stroke="#e03a3a" stroke-width="1.1" />
<circle cx="501.90" cy="374.70" r="1.80" fill="#e03a3a" />
<line x1="491.00" y1="385.70" x2="512.80" y2="385.70" stroke="#3db04a" stroke-width="1.6" />
<polygon points="500.00,387.10 503.80,387.10 501.90,383.80" fill="#2a66c0" />
<text x="514.80" y="366.20" font-size="7.6" text-anchor="start" fill="#333" font-weight="normal" >Paper-based sensor</text>
<text x="514.80" y="377.30" font-size="7.6" text-anchor="start" fill="#333" font-weight="normal" >PTFE membrane-based sensor</text>
<text x="514.80" y="388.30" font-size="7.6" text-anchor="start" fill="#333" font-weight="normal" >IDE-based sensor</text>
<text x="4.00" y="568.60" font-size="15.6" text-anchor="start" fill="#231815" font-weight="bold" >j</text>
<defs><radialGradient id="bs" cx="0.38" cy="0.35" r="0.72"><stop offset="0" stop-color="#5f8ccc"/><stop offset="0.55" stop-color="#245099"/><stop offset="1" stop-color="#132f68"/></radialGradient></defs>
<text x="43.80" y="588.90" font-size="6.1" text-anchor="middle" fill="#222" font-weight="bold" >SiO<tspan font-size="4.5" dy="1.3">2</tspan><tspan dy="-1.3"> Core</tspan></text>
<text x="104.20" y="585.70" font-size="6.15" text-anchor="middle" fill="#222" font-weight="bold" >Functionalized</text>
<text x="104.20" y="593.10" font-size="6.15" text-anchor="middle" fill="#222" font-weight="bold" >Nanosphere</text>
<text x="173.00" y="585.70" font-size="6.15" text-anchor="middle" fill="#222" font-weight="bold" >Gold-seeded</text>
<text x="173.00" y="593.10" font-size="6.15" text-anchor="middle" fill="#222" font-weight="bold" >Nanosphere</text>
<line x1="41.60" y1="603.80" x2="41.60" y2="601.30" stroke="#3a60a8" stroke-width="1.0" />
<text x="0" y="1.3" font-size="4.0" text-anchor="middle" fill="#24478f" font-weight="bold" transform="translate(41.60,598.60) rotate(-90)">OH</text>
<line x1="47.26" y1="606.14" x2="49.02" y2="604.38" stroke="#3a60a8" stroke-width="1.0" />
<text x="0" y="1.3" font-size="4.0" text-anchor="middle" fill="#24478f" font-weight="bold" transform="translate(50.93,602.47) rotate(-45)">OH</text>
<line x1="49.60" y1="611.80" x2="52.10" y2="611.80" stroke="#3a60a8" stroke-width="1.0" />
<text x="0" y="1.3" font-size="4.0" text-anchor="middle" fill="#24478f" font-weight="bold" transform="translate(54.80,611.80) rotate(0)">OH</text>
<line x1="47.26" y1="617.46" x2="49.02" y2="619.22" stroke="#3a60a8" stroke-width="1.0" />
<text x="0" y="1.3" font-size="4.0" text-anchor="middle" fill="#24478f" font-weight="bold" transform="translate(50.93,621.13) rotate(45)">OH</text>
<line x1="41.60" y1="619.80" x2="41.60" y2="622.30" stroke="#3a60a8" stroke-width="1.0" />
<text x="0" y="1.3" font-size="4.0" text-anchor="middle" fill="#24478f" font-weight="bold" transform="translate(41.60,625.00) rotate(90)">OH</text>
<line x1="35.94" y1="617.46" x2="34.18" y2="619.22" stroke="#3a60a8" stroke-width="1.0" />
<text x="0" y="1.3" font-size="4.0" text-anchor="middle" fill="#24478f" font-weight="bold" transform="translate(32.27,621.13) rotate(315)">HO</text>
<line x1="33.60" y1="611.80" x2="31.10" y2="611.80" stroke="#3a60a8" stroke-width="1.0" />
<text x="0" y="1.3" font-size="4.0" text-anchor="middle" fill="#24478f" font-weight="bold" transform="translate(28.40,611.80) rotate(360)">HO</text>
<line x1="35.94" y1="606.14" x2="34.18" y2="604.38" stroke="#3a60a8" stroke-width="1.0" />
<text x="0" y="1.3" font-size="4.0" text-anchor="middle" fill="#24478f" font-weight="bold" transform="translate(32.27,602.47) rotate(405)">HO</text>
<circle cx="41.60" cy="611.80" r="8.20" fill="url(#bs)" />
<line x1="111.70" y1="604.30" x2="111.70" y2="601.80" stroke="#3a60a8" stroke-width="1.0" />
<text x="0" y="1.3" font-size="4.0" text-anchor="middle" fill="#24478f" font-weight="bold" transform="translate(111.70,599.10) rotate(-90)">NH₂</text>
<line x1="117.36" y1="606.64" x2="119.12" y2="604.88" stroke="#3a60a8" stroke-width="1.0" />
<text x="0" y="1.3" font-size="4.0" text-anchor="middle" fill="#24478f" font-weight="bold" transform="translate(121.03,602.97) rotate(-45)">NH₂</text>
<line x1="119.70" y1="612.30" x2="122.20" y2="612.30" stroke="#3a60a8" stroke-width="1.0" />
<text x="0" y="1.3" font-size="4.0" text-anchor="middle" fill="#24478f" font-weight="bold" transform="translate(124.90,612.30) rotate(0)">NH₂</text>
<line x1="117.36" y1="617.96" x2="119.12" y2="619.72" stroke="#3a60a8" stroke-width="1.0" />
<text x="0" y="1.3" font-size="4.0" text-anchor="middle" fill="#24478f" font-weight="bold" transform="translate(121.03,621.63) rotate(45)">NH₂</text>
<line x1="111.70" y1="620.30" x2="111.70" y2="622.80" stroke="#3a60a8" stroke-width="1.0" />
<text x="0" y="1.3" font-size="4.0" text-anchor="middle" fill="#24478f" font-weight="bold" transform="translate(111.70,625.50) rotate(90)">NH₂</text>
<line x1="106.04" y1="617.96" x2="104.28" y2="619.72" stroke="#3a60a8" stroke-width="1.0" />
<text x="0" y="1.3" font-size="4.0" text-anchor="middle" fill="#24478f" font-weight="bold" transform="translate(102.37,621.63) rotate(315)">NH₂</text>
<line x1="103.70" y1="612.30" x2="101.20" y2="612.30" stroke="#3a60a8" stroke-width="1.0" />
<text x="0" y="1.3" font-size="4.0" text-anchor="middle" fill="#24478f" font-weight="bold" transform="translate(98.50,612.30) rotate(360)">NH₂</text>
<line x1="106.04" y1="606.64" x2="104.28" y2="604.88" stroke="#3a60a8" stroke-width="1.0" />
<text x="0" y="1.3" font-size="4.0" text-anchor="middle" fill="#24478f" font-weight="bold" transform="translate(102.37,602.97) rotate(405)">NH₂</text>
<circle cx="111.70" cy="612.30" r="7.80" fill="url(#bs)" />
<circle cx="185.50" cy="613.70" r="0.95" fill="#d9b85a" />
<circle cx="185.16" cy="616.04" r="0.95" fill="#d9b85a" />
<circle cx="184.18" cy="618.19" r="0.95" fill="#d9b85a" />
<circle cx="182.64" cy="619.97" r="0.95" fill="#d9b85a" />
<circle cx="180.65" cy="621.25" r="0.95" fill="#d9b85a" />
<circle cx="178.38" cy="621.92" r="0.95" fill="#d9b85a" />
<circle cx="176.02" cy="621.92" r="0.95" fill="#d9b85a" />
<circle cx="173.75" cy="621.25" r="0.95" fill="#d9b85a" />
<circle cx="171.76" cy="619.97" r="0.95" fill="#d9b85a" />
<circle cx="170.22" cy="618.19" r="0.95" fill="#d9b85a" />
<circle cx="169.24" cy="616.04" r="0.95" fill="#d9b85a" />
<circle cx="168.90" cy="613.70" r="0.95" fill="#d9b85a" />
<circle cx="169.24" cy="611.36" r="0.95" fill="#d9b85a" />
<circle cx="170.22" cy="609.21" r="0.95" fill="#d9b85a" />
<circle cx="171.76" cy="607.43" r="0.95" fill="#d9b85a" />
<circle cx="173.75" cy="606.15" r="0.95" fill="#d9b85a" />
<circle cx="176.02" cy="605.48" r="0.95" fill="#d9b85a" />
<circle cx="178.38" cy="605.48" r="0.95" fill="#d9b85a" />
<circle cx="180.65" cy="606.15" r="0.95" fill="#d9b85a" />
<circle cx="182.64" cy="607.43" r="0.95" fill="#d9b85a" />
<circle cx="184.18" cy="609.21" r="0.95" fill="#d9b85a" />
<circle cx="185.16" cy="611.36" r="0.95" fill="#d9b85a" />
<circle cx="177.20" cy="613.70" r="7.40" fill="url(#bs)" />
<line x1="63.00" y1="614.40" x2="88.80" y2="614.40" stroke="#1a1a1a" stroke-width="1.0" />
<path d="M85.00,611.80 L89.80,614.40 L85.00,617.00" fill="none" stroke="#1a1a1a" stroke-width="1.1"/>
<text x="72.80" y="611.60" font-size="6.2" text-anchor="middle" fill="#222" font-weight="normal" >APTMS</text>
<line x1="135.00" y1="614.60" x2="161.50" y2="614.60" stroke="#1a1a1a" stroke-width="1.0" />
<path d="M157.70,612.00 L162.50,614.60 L157.70,617.20" fill="none" stroke="#1a1a1a" stroke-width="1.1"/>
<text x="144.60" y="611.00" font-size="6.2" text-anchor="middle" fill="#222" font-weight="normal" >Au Seed</text>
<line x1="183.00" y1="626.00" x2="183.00" y2="641.60" stroke="#1a1a1a" stroke-width="1.0" />
<line x1="183.40" y1="641.60" x2="155.20" y2="641.60" stroke="#1a1a1a" stroke-width="1.0" />
<path d="M159.00,639.00 L154.20,641.60 L159.00,644.20" fill="none" stroke="#1a1a1a" stroke-width="1.1"/>
<text x="159.40" y="638.90" font-size="6.2" text-anchor="start" fill="#222" font-weight="normal" >H<tspan font-size="4.2" dy="1.2">2</tspan><tspan dy="-1.2">PdCl</tspan><tspan font-size="4.2" dy="1.2">4</tspan></text>
<text x="184.90" y="638.90" font-size="6.2" text-anchor="start" fill="#222" font-weight="normal" >PVP</text>
<text x="152.30" y="649.40" font-size="6.2" text-anchor="start" fill="#222" font-weight="normal" >Ascorbic Acid</text>
<circle cx="140.20" cy="641.50" r="9.60" fill="#6a6a6a" />
<circle cx="140.20" cy="641.50" r="7.60" fill="url(#bs)" />
<text x="142.20" y="659.00" font-size="6.2" text-anchor="middle" fill="#222" font-weight="normal" >SiO<tspan font-size="4.2" dy="1.2">2</tspan><tspan dy="-1.2">@Pd</tspan></text>
<line x1="126.80" y1="642.00" x2="98.70" y2="642.00" stroke="#1a1a1a" stroke-width="1.0" />
<path d="M102.50,639.40 L97.70,642.00 L102.50,644.60" fill="none" stroke="#1a1a1a" stroke-width="1.1"/>
<text x="115.30" y="639.80" font-size="6.2" text-anchor="middle" fill="#222" font-weight="normal" >NaOH</text>
<circle cx="82.80" cy="641.80" r="8.70" fill="none" stroke="#6a6a6a" stroke-width="2.2"/>
<text x="85.90" y="659.20" font-size="6.2" text-anchor="middle" fill="#222" font-weight="normal" >Pd HSs</text>
<text x="49.00" y="672.50" font-size="6.1" text-anchor="middle" fill="#333" font-weight="normal" >High Resistance</text>
<circle cx="17.50" cy="682.80" r="6.60" fill="none" stroke="#4a4a4a" stroke-width="1.3"/>
<circle cx="32.40" cy="682.80" r="6.60" fill="none" stroke="#4a4a4a" stroke-width="1.3"/>
<circle cx="47.10" cy="682.80" r="6.60" fill="none" stroke="#4a4a4a" stroke-width="1.3"/>
<circle cx="62.00" cy="682.80" r="6.60" fill="none" stroke="#4a4a4a" stroke-width="1.3"/>
<circle cx="76.60" cy="682.80" r="6.60" fill="none" stroke="#4a4a4a" stroke-width="1.3"/>
<rect x="9.90" y="689.50" width="72.90" height="6.40" fill="#555" />
<text x="172.60" y="672.80" font-size="6.15" text-anchor="middle" fill="#8a3a40" font-weight="normal" >Low Resistance</text>
<circle cx="147.50" cy="682.30" r="6.60" fill="none" stroke="#7a3036" stroke-width="1.3"/>
<circle cx="161.30" cy="682.30" r="6.60" fill="none" stroke="#7a3036" stroke-width="1.3"/>
<circle cx="175.30" cy="682.30" r="6.60" fill="none" stroke="#7a3036" stroke-width="1.3"/>
<circle cx="189.10" cy="682.30" r="6.60" fill="none" stroke="#7a3036" stroke-width="1.3"/>
<circle cx="204.50" cy="682.30" r="6.60" fill="none" stroke="#7a3036" stroke-width="1.3"/>
<rect x="140.20" y="689.40" width="72.50" height="6.40" fill="#555" />
<line x1="84.50" y1="683.40" x2="138.00" y2="683.40" stroke="#b8283a" stroke-width="1.2" />
<line x1="86.00" y1="686.40" x2="139.00" y2="686.40" stroke="#b8283a" stroke-width="1.2" />
<polygon points="140.00,683.40 134.00,680.60 134.00,683.40" fill="#b8283a" />
<polygon points="84.00,686.40 90.00,689.20 90.00,686.40" fill="#b8283a" />
<text x="111.40" y="680.60" font-size="5.85" text-anchor="middle" fill="#222" font-weight="normal" >H<tspan font-size="4.2" dy="1.2">2</tspan><tspan dy="-1.2"> Exposure</tspan></text>
<text x="111.10" y="693.30" font-size="5.85" text-anchor="middle" fill="#222" font-weight="normal" >H<tspan font-size="4.2" dy="1.2">2</tspan><tspan dy="-1.2"> Removal</tspan></text>
<text x="229.30" y="567.90" font-size="14.2" text-anchor="start" fill="#231815" font-weight="bold" >k</text>
<polyline points="260.50,582.10 262.50,582.60 264.20,583.40 267.00,584.30 269.40,584.60 271.40,582.90 273.00,581.90 274.50,581.70 276.10,582.60 277.50,584.30 279.20,585.60 281.20,586.20 282.40,585.40 283.70,583.30 285.20,582.00 286.80,581.70 289.00,581.90 290.90,582.30 292.40,583.80 294.00,585.40 296.00,586.20 298.10,586.80 300.60,587.90 301.20,584.50 302.00,582.20 302.60,581.30 304.00,580.80 306.30,580.70 308.20,581.20 308.80,582.20 309.50,586.00 310.40,590.30 311.30,592.60 312.50,594.00 314.50,594.90 316.60,595.50 319.70,596.10 320.10,592.00 320.60,587.00 321.30,583.00 322.00,580.80 323.80,579.70 326.00,579.80 327.90,580.10 329.10,581.30 329.70,590.00 330.50,606.00 331.40,614.50 333.00,620.70 334.50,623.20 336.10,624.80 338.00,625.80 339.40,626.70 340.00,620.00 340.80,606.30 341.60,594.00 342.30,585.80 343.20,580.50 344.30,578.60 346.00,577.80 347.40,577.60 349.20,578.60 349.90,580.50 350.30,590.00 350.80,605.00 351.50,620.00 352.50,630.50 353.80,637.50 356.30,643.40 358.00,645.50 359.40,646.80 360.20,635.00 361.00,616.70 362.00,598.00 363.10,581.70 363.90,575.20 365.60,576.20 367.60,575.60 370.00,576.00 371.30,576.60 372.40,579.00 372.90,585.00 373.50,600.00 374.20,617.00 375.80,637.20 377.30,648.00 378.90,655.70 381.00,660.50 383.00,663.80 384.00,648.00 385.10,627.00 386.10,609.00 387.10,596.10 388.20,584.00 389.20,576.60 391.00,574.20 393.30,573.50 395.00,574.00 396.00,575.60 396.50,583.00 397.00,596.10 397.70,615.00 398.50,637.20 400.00,652.00 401.50,664.00 403.50,672.00 406.30,679.60 407.00,660.00 407.70,637.20 408.70,617.00 409.80,600.20 411.20,585.00 412.80,575.60 414.90,573.10 418.00,573.30 421.10,573.90 421.80,576.50 422.30,584.00 423.10,616.70 424.20,640.00 426.20,664.00 428.50,675.00 430.50,681.00 432.40,684.30 433.20,667.00 434.00,647.50 435.20,625.00 436.50,606.40 437.80,589.00 439.20,577.60 441.00,574.80 442.70,573.90 444.50,573.50 446.00,573.40" fill="none" stroke="#111" stroke-width="1.75" stroke-linejoin="round" stroke-linecap="round" />
<rect x="260.30" y="561.60" width="185.90" height="136.90" fill="none" stroke="#333" stroke-width="1.0"/>
<line x1="257.70" y1="572.70" x2="260.30" y2="572.70" stroke="#333" stroke-width="0.9" />
<text x="255.10" y="575.30" font-size="7.2" text-anchor="end" fill="#333" font-weight="bold" >2.0</text>
<line x1="257.70" y1="595.50" x2="260.30" y2="595.50" stroke="#333" stroke-width="0.9" />
<text x="255.10" y="598.10" font-size="7.2" text-anchor="end" fill="#333" font-weight="bold" >1.6</text>
<line x1="257.70" y1="618.30" x2="260.30" y2="618.30" stroke="#333" stroke-width="0.9" />
<text x="255.10" y="620.90" font-size="7.2" text-anchor="end" fill="#333" font-weight="bold" >1.2</text>
<line x1="257.70" y1="641.10" x2="260.30" y2="641.10" stroke="#333" stroke-width="0.9" />
<text x="255.10" y="643.70" font-size="7.2" text-anchor="end" fill="#333" font-weight="bold" >0.8</text>
<line x1="257.70" y1="663.90" x2="260.30" y2="663.90" stroke="#333" stroke-width="0.9" />
<text x="255.10" y="666.50" font-size="7.2" text-anchor="end" fill="#333" font-weight="bold" >0.4</text>
<line x1="257.70" y1="686.70" x2="260.30" y2="686.70" stroke="#333" stroke-width="0.9" />
<text x="255.10" y="689.30" font-size="7.2" text-anchor="end" fill="#333" font-weight="bold" >0</text>
<line x1="258.80" y1="584.10" x2="260.30" y2="584.10" stroke="#333" stroke-width="0.8" />
<line x1="258.80" y1="606.90" x2="260.30" y2="606.90" stroke="#333" stroke-width="0.8" />
<line x1="258.80" y1="629.70" x2="260.30" y2="629.70" stroke="#333" stroke-width="0.8" />
<line x1="258.80" y1="652.50" x2="260.30" y2="652.50" stroke="#333" stroke-width="0.8" />
<line x1="258.80" y1="675.30" x2="260.30" y2="675.30" stroke="#333" stroke-width="0.8" />
<line x1="258.80" y1="698.10" x2="260.30" y2="698.10" stroke="#333" stroke-width="0.8" />
<line x1="260.40" y1="698.50" x2="260.40" y2="700.80" stroke="#333" stroke-width="0.9" />
<text x="260.40" y="710.40" font-size="7.2" text-anchor="middle" fill="#333" font-weight="bold" >0</text>
<line x1="291.37" y1="698.50" x2="291.37" y2="700.80" stroke="#333" stroke-width="0.9" />
<text x="291.37" y="710.40" font-size="7.2" text-anchor="middle" fill="#333" font-weight="bold" >100</text>
<line x1="322.34" y1="698.50" x2="322.34" y2="700.80" stroke="#333" stroke-width="0.9" />
<text x="322.34" y="710.40" font-size="7.2" text-anchor="middle" fill="#333" font-weight="bold" >200</text>
<line x1="353.31" y1="698.50" x2="353.31" y2="700.80" stroke="#333" stroke-width="0.9" />
<text x="353.31" y="710.40" font-size="7.2" text-anchor="middle" fill="#333" font-weight="bold" >300</text>
<line x1="384.28" y1="698.50" x2="384.28" y2="700.80" stroke="#333" stroke-width="0.9" />
<text x="384.28" y="710.40" font-size="7.2" text-anchor="middle" fill="#333" font-weight="bold" >400</text>
<line x1="415.25" y1="698.50" x2="415.25" y2="700.80" stroke="#333" stroke-width="0.9" />
<text x="415.25" y="710.40" font-size="7.2" text-anchor="middle" fill="#333" font-weight="bold" >500</text>
<line x1="446.22" y1="698.50" x2="446.22" y2="700.80" stroke="#333" stroke-width="0.9" />
<text x="446.22" y="710.40" font-size="7.2" text-anchor="middle" fill="#333" font-weight="bold" >600</text>
<line x1="275.88" y1="698.50" x2="275.88" y2="699.90" stroke="#333" stroke-width="0.8" />
<line x1="306.85" y1="698.50" x2="306.85" y2="699.90" stroke="#333" stroke-width="0.8" />
<line x1="337.82" y1="698.50" x2="337.82" y2="699.90" stroke="#333" stroke-width="0.8" />
<line x1="368.79" y1="698.50" x2="368.79" y2="699.90" stroke="#333" stroke-width="0.8" />
<line x1="399.76" y1="698.50" x2="399.76" y2="699.90" stroke="#333" stroke-width="0.8" />
<line x1="430.73" y1="698.50" x2="430.73" y2="699.90" stroke="#333" stroke-width="0.8" />
<text x="353.40" y="721.20" font-size="7.2" text-anchor="middle" fill="#333" font-weight="bold" >Time (s)</text>
<text x="0.00" y="0.00" font-size="7.7" text-anchor="middle" fill="#333" font-weight="bold" transform="translate(238.4,629.8) rotate(-90)">Resistance (MΩ)</text>
<rect x="263.40" y="690.20" width="18.60" height="2.70" fill="#0c1430" />
<text x="285.80" y="694.30" font-size="7.4" text-anchor="start" fill="#333" font-weight="bold" >633/10</text>
<text x="274.50" y="579.20" font-size="7.3" text-anchor="middle" fill="#333" font-weight="bold" >0.0075</text>
<text x="280.60" y="594.00" font-size="7.3" text-anchor="middle" fill="#333" font-weight="bold" >0.02</text>
<text x="300.00" y="597.50" font-size="7.3" text-anchor="middle" fill="#333" font-weight="bold" >0.05</text>
<text x="321.70" y="605.80" font-size="7.3" text-anchor="middle" fill="#333" font-weight="bold" >0.15</text>
<text x="337.20" y="633.90" font-size="7.3" text-anchor="middle" fill="#333" font-weight="bold" >0.5</text>
<text x="359.10" y="655.80" font-size="7.3" text-anchor="middle" fill="#333" font-weight="bold" >1%</text>
<text x="381.80" y="673.20" font-size="7.3" text-anchor="middle" fill="#333" font-weight="bold" >1.5</text>
<text x="406.50" y="688.70" font-size="7.3" text-anchor="middle" fill="#333" font-weight="bold" >2</text>
<text x="430.20" y="692.20" font-size="7.3" text-anchor="middle" fill="#333" font-weight="bold" >2.5</text>
<text x="460.90" y="567.40" font-size="13.6" text-anchor="start" fill="#231815" font-weight="bold" >l</text>
<rect x="493.30" y="675.70" width="16.50" height="13.80" fill="#c46a70" />
<rect x="509.30" y="595.60" width="56.10" height="81.30" fill="#dfe084" />
<rect x="565.20" y="573.40" width="67.30" height="22.20" fill="#72b064" />
<rect x="632.50" y="566.40" width="37.00" height="8.00" fill="#7fbcc6" />
<path d="M498.40,685.71 C498.96,685.18 500.63,683.49 501.75,682.54 C502.87,681.59 503.98,680.75 505.10,680.01 C506.22,679.27 507.11,678.75 508.45,678.12 C509.79,677.48 511.46,677.17 513.14,676.22 C514.81,675.27 516.49,675.27 518.50,672.42 C520.51,669.58 522.97,664.20 525.20,659.14 C527.43,654.08 529.44,647.33 531.90,642.06 C534.36,636.79 537.15,632.15 539.94,627.51 C542.73,622.88 545.75,618.24 548.65,614.23 C551.55,610.23 554.57,606.54 557.36,603.48 C560.15,600.42 561.27,598.31 565.40,595.89 C569.53,593.47 576.57,591.25 582.15,588.93 C587.73,586.61 593.32,584.08 598.90,581.98 C604.48,579.87 610.07,577.72 615.65,576.28 C621.23,574.85 626.82,574.01 632.40,573.37 C637.98,572.74 643.57,572.74 649.15,572.49 C654.73,572.23 663.11,571.96 665.90,571.86" fill="none" stroke="#1a2a1a" stroke-width="1.1"/>
<circle cx="498.40" cy="685.71" r="2.10" fill="#111" />
<circle cx="500.07" cy="683.17" r="2.10" fill="#111" />
<circle cx="501.75" cy="681.91" r="2.10" fill="#111" />
<circle cx="503.42" cy="680.64" r="2.10" fill="#111" />
<circle cx="508.45" cy="677.48" r="2.10" fill="#1e2a1e" />
<circle cx="518.50" cy="671.79" r="2.10" fill="#1e2a1e" />
<circle cx="531.90" cy="640.16" r="2.10" fill="#1e2a1e" />
<circle cx="548.65" cy="614.23" r="2.10" fill="#1e2a1e" />
<circle cx="565.40" cy="595.89" r="2.10" fill="#1e2a1e" />
<circle cx="582.15" cy="589.57" r="2.10" fill="#1e2a1e" />
<circle cx="598.90" cy="581.98" r="2.10" fill="#1e2a1e" />
<circle cx="615.65" cy="575.65" r="2.10" fill="#1e2a1e" />
<circle cx="632.40" cy="573.12" r="2.10" fill="#1e2a1e" />
<circle cx="649.15" cy="572.49" r="2.10" fill="#1e2a1e" />
<circle cx="665.90" cy="571.86" r="2.10" fill="#111" />
<rect x="491.40" y="562.80" width="181.60" height="133.20" fill="none" stroke="#444" stroke-width="1.0"/>
<line x1="488.80" y1="689.50" x2="491.40" y2="689.50" stroke="#333" stroke-width="0.9" />
<text x="485.60" y="692.10" font-size="7.2" text-anchor="end" fill="#333" font-weight="bold" >0.0</text>
<line x1="488.80" y1="664.20" x2="491.40" y2="664.20" stroke="#333" stroke-width="0.9" />
<text x="485.60" y="666.80" font-size="7.2" text-anchor="end" fill="#333" font-weight="bold" >0.2</text>
<line x1="488.80" y1="638.90" x2="491.40" y2="638.90" stroke="#333" stroke-width="0.9" />
<text x="485.60" y="641.50" font-size="7.2" text-anchor="end" fill="#333" font-weight="bold" >0.4</text>
<line x1="488.80" y1="613.60" x2="491.40" y2="613.60" stroke="#333" stroke-width="0.9" />
<text x="485.60" y="616.20" font-size="7.2" text-anchor="end" fill="#333" font-weight="bold" >0.6</text>
<line x1="488.80" y1="588.30" x2="491.40" y2="588.30" stroke="#333" stroke-width="0.9" />
<text x="485.60" y="590.90" font-size="7.2" text-anchor="end" fill="#333" font-weight="bold" >0.8</text>
<line x1="488.80" y1="563.00" x2="491.40" y2="563.00" stroke="#333" stroke-width="0.9" />
<text x="485.60" y="565.60" font-size="7.2" text-anchor="end" fill="#333" font-weight="bold" >1.0</text>
<line x1="489.90" y1="676.85" x2="491.40" y2="676.85" stroke="#333" stroke-width="0.8" />
<line x1="489.90" y1="651.55" x2="491.40" y2="651.55" stroke="#333" stroke-width="0.8" />
<line x1="489.90" y1="626.25" x2="491.40" y2="626.25" stroke="#333" stroke-width="0.8" />
<line x1="489.90" y1="600.95" x2="491.40" y2="600.95" stroke="#333" stroke-width="0.8" />
<line x1="489.90" y1="575.65" x2="491.40" y2="575.65" stroke="#333" stroke-width="0.8" />
<line x1="498.40" y1="696.00" x2="498.40" y2="698.30" stroke="#333" stroke-width="0.9" />
<text x="498.40" y="707.80" font-size="7.2" text-anchor="middle" fill="#333" font-weight="bold" >0.0</text>
<line x1="531.90" y1="696.00" x2="531.90" y2="698.30" stroke="#333" stroke-width="0.9" />
<text x="531.90" y="707.80" font-size="7.2" text-anchor="middle" fill="#333" font-weight="bold" >0.5</text>
<line x1="565.40" y1="696.00" x2="565.40" y2="698.30" stroke="#333" stroke-width="0.9" />
<text x="565.40" y="707.80" font-size="7.2" text-anchor="middle" fill="#333" font-weight="bold" >1.0</text>
<line x1="598.90" y1="696.00" x2="598.90" y2="698.30" stroke="#333" stroke-width="0.9" />
<text x="598.90" y="707.80" font-size="7.2" text-anchor="middle" fill="#333" font-weight="bold" >1.5</text>
<line x1="632.40" y1="696.00" x2="632.40" y2="698.30" stroke="#333" stroke-width="0.9" />
<text x="632.40" y="707.80" font-size="7.2" text-anchor="middle" fill="#333" font-weight="bold" >2.0</text>
<line x1="665.90" y1="696.00" x2="665.90" y2="698.30" stroke="#333" stroke-width="0.9" />
<text x="665.90" y="707.80" font-size="7.2" text-anchor="middle" fill="#333" font-weight="bold" >2.5</text>
<line x1="515.15" y1="696.00" x2="515.15" y2="697.40" stroke="#333" stroke-width="0.8" />
<line x1="548.65" y1="696.00" x2="548.65" y2="697.40" stroke="#333" stroke-width="0.8" />
<line x1="582.15" y1="696.00" x2="582.15" y2="697.40" stroke="#333" stroke-width="0.8" />
<line x1="615.65" y1="696.00" x2="615.65" y2="697.40" stroke="#333" stroke-width="0.8" />
<line x1="649.15" y1="696.00" x2="649.15" y2="697.40" stroke="#333" stroke-width="0.8" />
<text x="582.00" y="721.80" font-size="7.2" text-anchor="middle" fill="#333" font-weight="bold" >[H<tspan font-size="4.6" dy="1.4">2</tspan><tspan dy="-1.4">] %</tspan></text>
<text x="0.00" y="0.00" font-size="7.2" text-anchor="middle" fill="#333" font-weight="bold" transform="translate(467.6,631.2) rotate(-90)">Response</text>
<line x1="497.20" y1="569.50" x2="512.70" y2="569.50" stroke="#111" stroke-width="1.1" />
<circle cx="505.30" cy="569.50" r="2.10" fill="#111" />
<text x="516.50" y="572.10" font-size="7.4" text-anchor="start" fill="#333" font-weight="bold" >633/10</text>
<text x="606.10" y="606.60" font-size="7.5" text-anchor="middle" fill="#222" font-weight="bold" >α to β</text>
<text x="606.10" y="615.60" font-size="7.5" text-anchor="middle" fill="#222" font-weight="bold" >phase transition</text>
<line x1="0.00" y1="171.70" x2="685.00" y2="171.70" stroke="#1d7a45" stroke-width="1.8" stroke-dasharray="4,2.918" stroke-dashoffset="1.918"/>
<line x1="0.00" y1="548.10" x2="685.00" y2="548.10" stroke="#1d7a45" stroke-width="1.8" stroke-dasharray="4,2.918" stroke-dashoffset="1.918"/>
<rect x="0.00" y="0.00" width="685.00" height="1.20" fill="#3a3a3a" />
<rect x="0.00" y="728.80" width="685.00" height="1.20" fill="#3a3a3a" />
<rect x="0.00" y="0.00" width="1.10" height="730.00" fill="#999" />
<rect x="684.00" y="0.00" width="1.00" height="730.00" fill="#8c8c8c" />
</svg></body></html>
